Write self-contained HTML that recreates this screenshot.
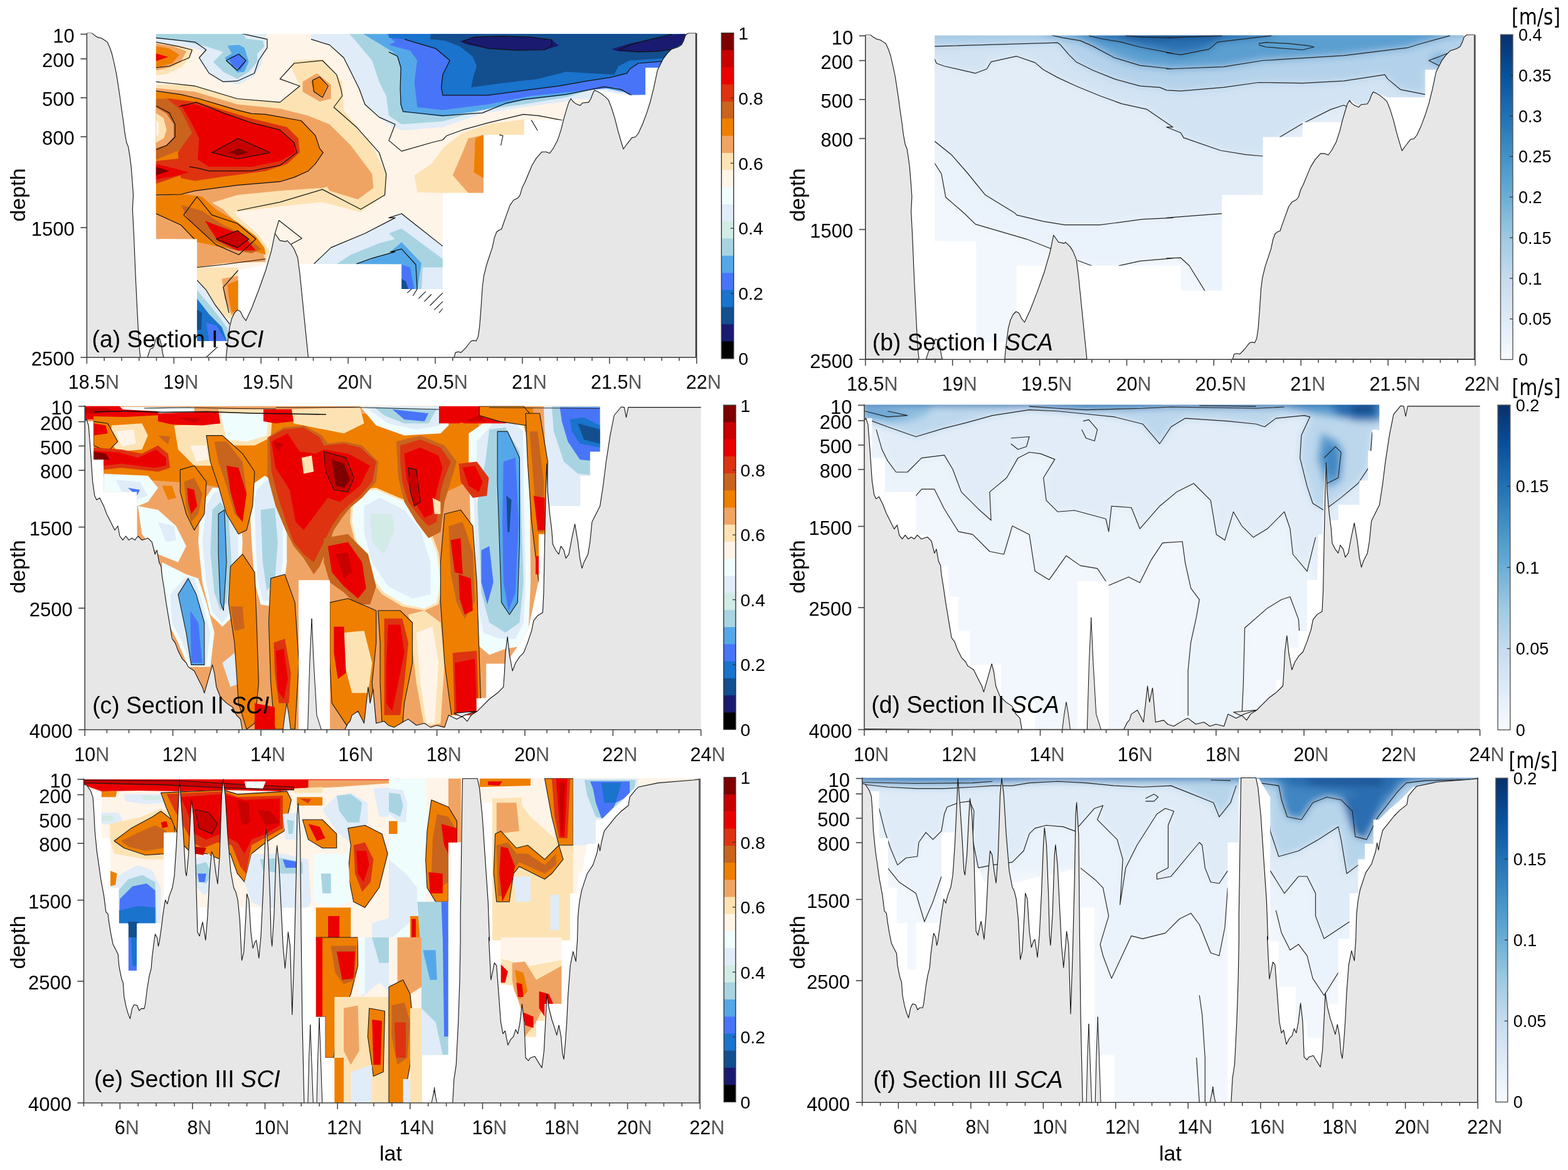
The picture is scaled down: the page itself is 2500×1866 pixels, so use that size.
<!DOCTYPE html><html><head><meta charset="utf-8"><style>html,body{margin:0;padding:0;background:#fff;}svg{display:block}</style></head><body>
<svg width="2500" height="1866" viewBox="0 0 2500 1866" font-family='"Liberation Sans", Arial, sans-serif'>
<rect width="2500" height="1866" fill="#fff"/>
<g id="pa">
<clipPath id="clipa"><rect x="138.4" y="52.5" width="972.3" height="517.5"/></clipPath>
<g clip-path="url(#clipa)">
<clipPath id="da"><path d="M248.6,54.2 L1093.3,54.2 L1090.0,64.9 L1086.6,71.6 L1080.9,75.0 L1070.7,78.4 L1064.0,85.2 L1057.2,94.2 L1050.4,107.8 L1028.9,107.8 L1028.9,151.8 L1001.8,151.8 L969.1,146.2 L948.7,142.8 L938.6,162.0 L925.0,167.7 L911.5,157.5 L897.9,191.8 L835.8,191.8 L835.8,215.1 L770.9,215.1 L770.9,307.7 L705.9,307.7 L705.9,460.9 L640.3,460.9 L640.3,421.3 L426.0,420.9 L423.7,422.0 L379.7,431.0 L379.7,494.3 L369.5,507.9 L365.0,544.0 L314.1,544.0 L314.1,381.3 L248.6,381.3 Z"/></clipPath>
<g clip-path="url(#da)">
<path d="M248.6,54.2 L1093.3,54.2 L1090.0,64.9 L1086.6,71.6 L1080.9,75.0 L1070.7,78.4 L1064.0,85.2 L1057.2,94.2 L1050.4,107.8 L1028.9,107.8 L1028.9,151.8 L1001.8,151.8 L969.1,146.2 L948.7,142.8 L938.6,162.0 L925.0,167.7 L911.5,157.5 L897.9,191.8 L835.8,191.8 L835.8,215.1 L770.9,215.1 L770.9,307.7 L705.9,307.7 L705.9,460.9 L640.3,460.9 L640.3,421.3 L426.0,420.9 L423.7,422.0 L379.7,431.0 L379.7,494.3 L369.5,507.9 L365.0,544.0 L314.1,544.0 L314.1,381.3 L248.6,381.3 Z" fill="#fff4e8"/>
<path d="M248.6,66.0 L288.2,71.6 L308.5,78.4 L301.7,94.2 L288.2,107.8 L265.6,117.9 L248.6,120.2 Z" fill="#fde3b4"/>
<path d="M248.6,134.9 L310.8,136.0 L378.5,157.5 L446.3,163.1 L477.9,137.2 L464.4,107.8 L468.9,96.5 L514.1,94.2 L545.7,130.4 L548.0,175.6 L593.2,232.0 L615.8,277.2 L613.5,311.1 L575.1,338.2 L514.1,322.4 L446.3,329.2 L355.9,340.5 L333.3,363.3 L315.3,394.9 L314.1,435.6 L248.6,340.5 Z" fill="#fde3b4"/>
<path d="M314.1,426.5 L355.9,422.0 L423.7,413.0 L430.5,401.7 L412.4,374.6 L378.5,345.2 L367.2,327.1 L344.6,300.0 L288.2,300.0 L248.6,311.3 L248.6,367.8 L314.1,394.9 Z" fill="#fde3b4"/>
<path d="M705.9,307.7 L665.2,306.6 L660.7,279.5 L687.8,261.4 L708.1,234.3 L737.5,211.7 L778.2,198.2 L835.8,190.2 L835.8,215.1 L770.9,215.1 L770.9,307.7 Z" fill="#fde3b4"/>
<path d="M314.1,426.5 L379.7,426.5 L379.7,494.3 L369.5,507.9 L355.9,503.3 L333.3,471.7 L314.1,449.1 Z" fill="#fde3b4"/>
<path d="M248.6,69.4 L276.9,73.9 L297.2,81.8 L288.2,98.7 L270.1,107.8 L248.6,112.3 Z" fill="#f0a464"/>
<path d="M248.6,140.5 L310.8,146.2 L378.5,166.5 L446.3,173.3 L491.5,184.6 L514.1,202.7 L536.7,243.3 L545.7,265.9 L541.2,293.1 L514.1,299.8 L446.3,304.3 L378.5,311.1 L333.3,324.7 L288.2,333.7 L248.6,340.5 Z" fill="#f0a464"/>
<path d="M248.6,309.0 L310.8,306.8 L355.9,333.9 L389.8,367.8 L419.2,401.7 L423.7,417.5 L355.9,419.7 L314.1,426.5 L314.1,381.3 L248.6,381.3 Z" fill="#f0a464"/>
<path d="M482.5,130.4 L505.1,116.8 L527.7,134.9 L527.7,157.5 L509.6,162.0 L482.5,146.2 Z" fill="#f0a464"/>
<path d="M491.5,184.6 L525.4,198.2 L559.3,232.0 L593.2,277.2 L595.4,299.8 L570.6,317.9 L525.4,304.3 L502.8,265.9 L514.1,243.3 Z" fill="#f0a464"/>
<path d="M770.9,215.1 L770.9,307.7 L746.5,307.7 L721.7,279.5 L737.5,243.3 L746.5,220.8 Z" fill="#f0a464"/>
<path d="M353.7,444.6 L379.7,440.1 L379.7,494.3 L369.5,503.3 L358.2,476.2 Z" fill="#f0a464"/>
<path d="M248.6,73.9 L270.1,77.3 L285.9,87.4 L274.6,101.0 L248.6,107.8 Z" fill="#ee7f00"/>
<path d="M248.6,146.2 L288.2,150.7 L317.5,157.5 L355.9,168.8 L401.1,181.2 L423.7,182.3 L480.2,192.5 L502.8,216.2 L509.6,236.6 L515.2,243.3 L502.8,261.4 L491.5,272.7 L468.9,282.9 L446.3,289.7 L378.5,295.3 L310.8,304.3 L288.2,310.0 L248.6,311.1 Z" fill="#ee7f00"/>
<path d="M248.6,313.6 L288.2,309.0 L322.0,313.6 L344.6,333.9 L378.5,354.2 L407.9,376.8 L421.5,394.9 L423.7,406.2 L401.1,399.4 L355.9,394.9 L314.1,385.9 L288.2,358.7 L248.6,340.7 Z" fill="#ee7f00"/>
<path d="M770.9,215.1 L770.9,284.0 L755.6,275.0 L757.8,220.8 Z" fill="#ee7f00"/>
<path d="M362.7,453.6 L379.7,446.9 L379.7,494.3 L369.5,498.8 L365.0,476.2 Z" fill="#ee7f00"/>
<path d="M496.0,130.4 L509.6,123.6 L520.9,137.2 L514.1,153.0 L500.5,146.2 Z" fill="#ee7f00"/>
<path d="M248.6,157.5 L265.6,157.5 L288.2,171.0 L306.2,198.2 L308.5,216.2 L288.2,238.8 L248.6,254.6 Z" fill="#c8641e"/>
<path d="M248.6,171.0 L265.6,181.2 L276.9,198.2 L276.9,218.5 L265.6,230.9 L248.6,236.6 Z" fill="#f0a464"/>
<path d="M248.6,180.1 L261.0,189.1 L265.6,207.2 L261.0,220.8 L248.6,227.5 Z" fill="#fde3b4"/>
<path d="M248.6,191.4 L253.1,195.9 L253.1,214.0 L248.6,218.5 Z" fill="#fff4e8"/>
<path d="M265.6,156.4 L315.3,163.1 L355.9,175.6 L401.1,189.1 L457.6,202.7 L475.7,220.8 L477.9,243.3 L457.6,261.4 L423.7,272.7 L355.9,281.8 L310.8,288.5 L288.2,284.0 L283.6,243.3 L306.2,211.7 L288.2,175.6 Z" fill="#dd3311"/>
<path d="M248.6,256.9 L288.2,252.4 L310.8,261.4 L288.2,279.5 L248.6,293.1 Z" fill="#dd3311"/>
<path d="M288.2,327.1 L322.0,336.2 L355.9,358.7 L389.8,374.6 L416.9,397.2 L401.1,403.9 L367.2,397.2 L333.3,381.3 L301.7,352.0 Z" fill="#c8641e"/>
<path d="M288.2,166.5 L310.8,166.5 L355.9,180.1 L401.1,195.9 L446.3,207.2 L468.9,227.5 L471.2,243.3 L446.3,256.9 L401.1,265.9 L333.3,265.9 L315.3,254.6 L317.5,220.8 L304.0,193.6 Z" fill="#eb0000"/>
<path d="M248.6,261.4 L276.9,268.2 L301.7,275.0 L274.6,281.8 L248.6,286.3 Z" fill="#eb0000"/>
<path d="M248.6,85.2 L267.8,90.8 L248.6,97.6 Z" fill="#eb0000"/>
<path d="M326.6,352.0 L355.9,363.3 L387.6,374.6 L407.9,399.4 L378.5,399.4 L346.9,383.6 Z" fill="#eb0000"/>
<path d="M337.9,243.3 L379.7,220.8 L430.5,243.3 L378.5,253.5 Z" fill="#c80000"/>
<path d="M365.0,243.3 L379.7,236.6 L396.6,243.3 L379.7,247.9 Z" fill="#7f0000"/>
<path d="M248.6,265.9 L270.1,272.7 L248.6,279.5 Z" fill="#7f0000"/>
<path d="M344.6,381.3 L378.5,367.8 L396.6,381.3 L378.5,394.9 Z" fill="#c80000"/>
<path d="M248.6,51.3 L426.0,51.3 L423.7,67.1 L421.5,80.7 L416.9,103.3 L405.6,121.3 L380.8,134.9 L355.9,130.4 L333.3,116.8 L319.8,101.0 L317.5,92.0 L326.6,82.9 L310.8,77.3 L288.2,72.8 L248.6,68.2 Z" fill="#e0ecf8"/>
<path d="M248.6,51.3 L385.3,51.3 L392.1,61.5 L419.2,64.9 L421.5,73.9 L410.2,85.2 L410.2,98.7 L396.6,114.6 L378.5,125.9 L355.9,114.6 L340.1,98.7 L355.9,82.9 L328.8,73.9 L288.2,64.9 L248.6,61.5 Z" fill="#a8d4e2"/>
<path d="M362.7,72.8 L380.8,71.6 L389.8,76.2 L396.6,98.7 L389.8,114.6 L378.5,115.7 L362.7,98.7 L358.2,92.0 L369.5,85.2 Z" fill="#55a8e8"/>
<path d="M365.0,92.0 L380.8,85.2 L392.1,98.7 L383.1,112.3 L369.5,103.3 Z" fill="#4875f8"/>
<path d="M496.0,51.3 L630.0,51.3 L1117.1,51.3 L1117.1,166.5 L913.7,157.5 L902.4,162.0 L832.4,171.0 L769.1,181.2 L705.9,202.7 L640.3,208.3 L620.0,198.2 L604.5,186.9 L581.9,166.5 L572.8,141.7 L559.3,114.6 L548.0,92.0 L525.4,71.6 L496.0,62.6 Z" fill="#e0ecf8"/>
<path d="M554.8,51.3 L630.0,51.3 L1117.1,51.3 L1117.1,153.0 L1004.1,137.2 L990.5,139.4 L947.6,141.7 L902.4,155.2 L834.6,166.5 L769.1,175.6 L705.9,193.6 L640.3,198.2 L620.0,184.6 L615.8,153.0 L604.5,130.4 L593.2,96.5 L570.6,69.4 Z" fill="#a8d4e2"/>
<path d="M572.8,51.3 L630.0,51.3 L1117.1,51.3 L1117.1,148.5 L990.5,146.2 L958.9,139.4 L902.4,151.8 L834.6,159.7 L769.1,175.6 L705.9,185.7 L642.6,179.0 L638.1,166.5 L638.1,107.8 L633.6,89.7 L620.0,82.9 L630.0,85.2 L604.5,69.4 L581.9,55.8 Z" fill="#55a8e8"/>
<path d="M604.5,51.3 L630.0,51.3 L1117.1,51.3 L1117.1,148.5 L1004.1,151.8 L981.5,139.4 L913.7,146.2 L845.9,153.0 L778.2,166.5 L705.9,175.6 L665.2,171.0 L660.7,130.4 L665.2,96.5 L653.9,80.7 L620.0,71.6 L630.0,67.1 L615.8,53.6 Z" fill="#4875f8"/>
<path d="M620.0,51.3 L1117.1,51.3 L1117.1,96.5 L1058.3,97.6 L1017.7,101.0 L1004.1,110.0 L999.6,116.8 L972.5,123.6 L936.3,129.2 L891.1,137.2 L845.9,142.8 L778.2,151.8 L705.9,151.8 L703.6,139.4 L705.9,119.1 L717.2,96.5 L694.6,77.3 L644.9,62.6 L620.0,60.3 Z" fill="#1a73cc"/>
<path d="M687.8,51.3 L1117.1,51.3 L1085.4,71.6 L1071.9,79.5 L1058.3,93.1 L1004.1,96.5 L986.0,105.5 L979.2,119.1 L902.4,114.6 L857.2,125.9 L800.8,132.6 L751.0,139.4 L755.6,119.1 L760.1,105.5 L753.3,89.7 L733.0,73.9 L710.4,64.9 L685.5,62.6 Z" fill="#134e8e"/>
<path d="M733.0,66.0 L755.6,59.2 L800.8,57.6 L845.9,59.2 L879.8,63.7 L891.1,72.8 L868.5,79.5 L823.3,80.2 L778.2,77.3 L746.5,71.6 Z" fill="#1a1a70"/>
<path d="M974.7,78.4 L1004.1,69.4 L1038.0,62.6 L1071.9,55.8 L1093.3,53.6 L1088.8,64.9 L1085.4,71.6 L1071.9,77.3 L1049.3,81.8 L1015.4,82.9 L986.0,81.8 Z" fill="#1a1a70"/>
<path d="M500.5,420.9 L527.7,394.9 L581.9,372.3 L630.0,347.4 L620.0,347.4 L640.3,340.7 L662.9,358.7 L705.9,392.6 L705.9,462.7 L620.0,462.7 Z" fill="#e0ecf8"/>
<path d="M536.7,420.9 L559.3,406.2 L604.5,388.1 L630.0,381.3 L620.0,372.3 L640.3,364.4 L705.9,413.0 L705.9,426.5 L674.2,426.5 L672.0,462.7 L620.0,462.7 Z" fill="#a8d4e2"/>
<path d="M568.3,420.9 L593.2,411.8 L630.0,401.7 L622.3,401.7 L640.3,385.9 L672.0,419.7 L665.2,462.7 L620.0,462.7 Z" fill="#55a8e8"/>
<path d="M640.3,422.0 L653.9,426.5 L660.7,462.7 L640.3,462.7 Z" fill="#4875f8"/>
<path d="M640.3,444.6 L647.1,449.1 L651.6,462.7 L640.3,462.7 Z" fill="#134e8e"/>
<path d="M314.1,446.9 L328.8,462.7 L342.4,485.3 L355.9,503.3 L366.1,516.9 L366.1,546.3 L314.1,546.3 Z" fill="#e0ecf8"/>
<path d="M314.1,462.7 L333.3,485.3 L351.4,507.9 L362.7,523.7 L365.0,546.3 L314.1,546.3 Z" fill="#a8d4e2"/>
<path d="M314.1,476.2 L333.3,501.1 L353.7,521.4 L362.7,546.3 L314.1,546.3 Z" fill="#1a73cc"/>
<path d="M328.8,514.6 L344.6,519.2 L360.5,544.0 L333.3,544.0 Z" fill="#4875f8"/>
<path d="M314.1,494.3 L322.0,498.8 L320.9,525.9 L314.1,525.9 Z" fill="#134e8e"/>
<path d="M248.6,145.1 L288.2,150.7 L317.5,157.5 L355.9,168.8 L378.5,175.6 L401.1,181.2 L423.7,182.3 L480.2,192.5 L502.8,216.2 L509.6,236.6 L515.2,243.3 L502.8,261.4 L491.5,272.7 L468.9,282.9 L446.3,289.7 L378.5,295.3 L310.8,304.3 L288.2,310.0 L248.6,311.1" fill="none" stroke="#111" stroke-width="1.2" stroke-linejoin="round"/>
<path d="M285.9,169.9 L313.0,163.1 L355.9,180.1 L401.1,195.9 L446.3,207.2 L468.9,227.5 L473.4,243.3 L446.3,263.7 L401.1,272.7 L333.3,272.7 L315.3,268.2 L301.7,265.9" fill="none" stroke="#111" stroke-width="1.2" stroke-linejoin="round"/>
<path d="M337.9,243.3 L379.7,220.8 L430.5,243.3 L378.5,253.5 L337.9,243.3" fill="none" stroke="#111" stroke-width="1.2" stroke-linejoin="round"/>
<path d="M248.6,168.8 L270.1,180.1 L279.1,198.2 L279.1,218.5 L265.6,232.0 L248.6,238.8" fill="none" stroke="#111" stroke-width="1.2" stroke-linejoin="round"/>
<path d="M248.6,130.4 L310.8,137.2 L378.5,157.5 L446.3,163.1 L477.9,137.2 L446.3,125.9 L468.9,101.0 L514.1,96.5 L536.7,119.1 L543.5,141.7 L545.7,153.0 L532.2,171.0 L568.3,202.7 L604.5,243.3 L615.8,277.2 L613.5,311.1 L575.1,333.7 L514.1,302.1 L446.3,322.4 L378.5,336.0" fill="none" stroke="#111" stroke-width="1.2" stroke-linejoin="round"/>
<path d="M498.3,128.1 L509.6,122.5 L523.1,137.2 L514.1,155.2 L500.5,146.2 L498.3,128.1" fill="none" stroke="#111" stroke-width="1.2" stroke-linejoin="round"/>
<path d="M248.6,107.8 L270.1,105.5 L301.7,92.0 L306.2,79.5 L283.6,73.9 L248.6,67.1" fill="none" stroke="#111" stroke-width="1.2" stroke-linejoin="round"/>
<path d="M248.6,60.3 L310.8,67.1 L328.8,79.5 L317.5,92.0 L333.3,116.8 L355.9,130.4 L378.5,129.2 L405.6,116.8 L412.4,96.5 L426.0,76.2 L426.0,62.6 L385.3,53.6" fill="none" stroke="#111" stroke-width="1.2" stroke-linejoin="round"/>
<path d="M360.5,96.5 L380.8,86.3 L392.1,96.5 L378.5,112.3 L360.5,96.5" fill="none" stroke="#111" stroke-width="1.2" stroke-linejoin="round"/>
<path d="M496.0,62.6 L525.4,71.6 L548.0,92.0 L559.3,114.6 L572.8,141.7 L581.9,166.5 L604.5,186.9 L630.0,198.2 L620.0,224.1 L640.3,241.1 L687.8,227.5 L705.9,223.0 L712.6,216.2 L737.5,207.2 L778.2,195.9 L834.6,182.3 L859.5,184.6 L896.8,191.8" fill="none" stroke="#111" stroke-width="1.2" stroke-linejoin="round"/>
<path d="M620.0,82.9 L633.6,89.7 L639.2,107.8 L638.1,141.7 L639.2,166.5 L642.6,177.8 L653.9,179.0 L705.9,184.6 L769.1,180.1 L807.5,164.3 L834.6,158.6 L902.4,150.7 L963.4,138.3 L990.5,142.8 L1008.6,153.0" fill="none" stroke="#111" stroke-width="1.2" stroke-linejoin="round"/>
<path d="M644.9,62.6 L694.6,77.3 L717.2,96.5 L705.9,119.1 L703.6,139.4 L705.9,151.8 L778.2,151.8 L845.9,142.8 L891.1,137.2 L936.3,129.2 L972.5,123.6 L999.6,116.8 L1004.1,110.0 L1017.7,101.0 L1058.3,97.6" fill="none" stroke="#111" stroke-width="1.2" stroke-linejoin="round"/>
<path d="M737.5,66.0 L755.6,59.2 L800.8,57.6 L845.9,59.2 L879.8,63.7 L879.8,72.8 L868.5,79.5 L823.3,80.2 L778.2,77.3 L737.5,66.0" fill="none" stroke="#111" stroke-width="1.2" stroke-linejoin="round"/>
<path d="M986.0,79.5 L1004.1,71.6 L1038.0,62.6 L1071.9,54.7" fill="none" stroke="#111" stroke-width="1.2" stroke-linejoin="round"/>
<path d="M986.0,79.5 L1015.4,82.9 L1049.3,81.8 L1071.9,78.4" fill="none" stroke="#111" stroke-width="1.2" stroke-linejoin="round"/>
<path d="M314.1,426.5 L355.9,422.0 L423.7,413.0" fill="none" stroke="#111" stroke-width="1.2" stroke-linejoin="round"/>
<path d="M292.7,342.9 L314.1,313.6 L337.9,342.9 L378.5,356.5 L407.9,381.3 L380.8,406.2 L344.6,390.4 L292.7,342.9" fill="none" stroke="#111" stroke-width="1.2" stroke-linejoin="round"/>
<path d="M344.6,381.3 L378.5,367.8 L396.6,381.3 L378.5,394.9 L344.6,381.3" fill="none" stroke="#111" stroke-width="1.2" stroke-linejoin="round"/>
<path d="M500.5,420.9 L527.7,394.9 L581.9,372.3 L630.0,347.4 L620.0,347.4 L640.3,340.7 L662.9,358.7 L705.9,392.6" fill="none" stroke="#111" stroke-width="1.2" stroke-linejoin="round"/>
<path d="M568.3,420.9 L593.2,411.8 L630.0,401.7 L622.3,401.7 L640.3,397.2 L662.9,422.0 L665.2,460.9" fill="none" stroke="#111" stroke-width="1.2" stroke-linejoin="round"/>
<path d="M314.1,446.9 L328.8,462.7 L342.4,485.3 L355.9,503.3 L366.1,516.9" fill="none" stroke="#111" stroke-width="1.2" stroke-linejoin="round"/>
<path d="M379.7,431.0 L355.9,458.2 L365.0,498.8" fill="none" stroke="#111" stroke-width="1.2" stroke-linejoin="round"/>
<path d="M248.6,340.7 L288.2,358.7 L314.1,385.9" fill="none" stroke="#111" stroke-width="1.2" stroke-linejoin="round"/>
</g>
<path d="M137.0,52.4 L145.8,52.4 L151.5,56.9 L156.7,59.9 L161.6,60.8 L166.2,63.7 L171.1,67.1 L175.2,76.2 L178.6,86.3 L182.0,101.0 L185.4,116.8 L188.3,134.9 L191.0,153.0 L193.7,173.3 L196.7,193.6 L198.9,211.7 L201.8,227.5 L204.6,234.3 L206.8,247.9 L209.1,265.9 L210.9,288.5 L212.5,311.1 L211.3,333.9 L213.6,379.1 L215.9,435.6 L218.1,480.8 L220.4,525.9 L222.6,559.8 L223.8,570.2 L138.4,570.2 Z" fill="#e7e7e7" stroke="#111" stroke-width="1.1" stroke-linejoin="round"/>
<path d="M235.0,570.2 L239.5,556.7 L243.6,554.9 L245.4,552.2 L247.7,543.1 L249.9,538.1 L254.5,540.0 L257.2,550.0 L259.0,561.3 L260.8,570.2 Z" fill="#e7e7e7" stroke="#111" stroke-width="1.1" stroke-linejoin="round"/>
<path d="M360.5,570.2 L362.7,548.5 L366.1,521.4 L369.5,507.9 L374.0,498.8 L378.5,494.3 L383.1,496.6 L387.6,505.6 L392.1,511.3 L401.1,492.0 L412.4,462.7 L423.7,431.0 L432.8,399.4 L438.4,372.3 L446.3,383.6 L455.4,385.4 L457.6,383.6 L464.4,390.4 L468.9,397.2 L474.6,410.7 L477.9,435.6 L482.5,480.8 L487.0,525.9 L491.5,570.2 Z" fill="#e7e7e7" stroke="#111" stroke-width="1.1" stroke-linejoin="round"/>
<path d="M438.4,372.3 L444.7,351.5 L481.3,380.2 L464.4,389.2" fill="none" stroke="#111" stroke-width="1.1" stroke-linejoin="round"/>
<path d="M723.9,570.2 L726.2,562.1 L730.7,561.0 L735.2,562.1 L742.0,555.3 L751.0,544.0 L755.6,542.9 L759.0,544.0 L762.3,537.2 L764.6,521.4 L766.9,492.0 L769.1,458.2 L771.4,440.1 L775.9,422.0 L780.4,408.5 L784.9,394.9 L788.3,379.1 L791.7,370.0 L796.2,366.7 L799.6,365.5 L801.9,358.7 L807.5,342.9 L813.2,327.1 L818.8,319.2 L825.6,315.8 L829.0,311.3 L832.4,299.8 L836.9,290.8 L842.5,277.2 L848.2,263.7 L855.0,252.4 L864.0,242.2 L870.8,242.2 L876.4,244.5 L882.1,236.6 L888.9,224.1 L894.5,207.2 L899.0,189.1 L903.6,173.3 L906.9,163.1 L910.3,157.5 L913.7,162.0 L918.2,165.4 L925.0,168.3 L928.4,164.3 L938.6,163.1 L942.0,157.5 L945.4,148.5 L948.1,143.9 L953.3,146.2 L958.9,149.6 L965.7,155.2 L970.2,159.7 L974.7,171.0 L980.4,189.1 L984.9,207.2 L989.4,223.0 L993.9,237.7 L999.6,229.8 L1007.5,219.6 L1013.1,218.5 L1017.7,212.8 L1024.4,198.2 L1031.2,180.1 L1036.9,162.0 L1042.5,139.4 L1048.2,112.3 L1050.4,107.8 L1057.2,94.2 L1064.0,85.2 L1070.7,78.4 L1080.9,75.0 L1086.6,71.6 L1090.0,64.9 L1092.7,56.9 L1096.7,52.9 L1109.4,52.4 L1109.4,570.2 Z" fill="#e7e7e7" stroke="#111" stroke-width="1.1" stroke-linejoin="round"/>
<path d="M649.4,467.2 L656.2,460.9" fill="none" stroke="#111" stroke-width="1.1" stroke-linejoin="round"/>
<path d="M658.4,471.7 L665.2,460.9" fill="none" stroke="#111" stroke-width="1.1" stroke-linejoin="round"/>
<path d="M667.4,476.2 L678.7,464.9" fill="none" stroke="#111" stroke-width="1.1" stroke-linejoin="round"/>
<path d="M676.5,480.8 L687.8,469.5" fill="none" stroke="#111" stroke-width="1.1" stroke-linejoin="round"/>
<path d="M685.5,487.5 L705.9,467.2" fill="none" stroke="#111" stroke-width="1.1" stroke-linejoin="round"/>
<path d="M692.3,494.3 L705.9,480.8" fill="none" stroke="#111" stroke-width="1.1" stroke-linejoin="round"/>
<path d="M700.2,498.8 L705.9,492.0" fill="none" stroke="#111" stroke-width="1.1" stroke-linejoin="round"/>
<path d="M847.1,191.4 L857.2,208.3" fill="none" stroke="#111" stroke-width="1.1" stroke-linejoin="round"/>
<path d="M796.2,215.1 L801.9,216.2 L798.5,232.0" fill="none" stroke="#111" stroke-width="1.1" stroke-linejoin="round"/>
<path d="M328.8,570.0 L346.9,553.1" fill="none" stroke="#111" stroke-width="1.1" stroke-linejoin="round"/>
</g>
<path d="M138.4,53.0V570.0H1110.7" fill="none" stroke="#404040" stroke-width="1.6"/>
<path d="M1110.7,53.0V570.0" fill="none" stroke="#404040" stroke-width="1.4"/>
<path d="M128.4,54.5H138.4" stroke="#404040" stroke-width="1.6"/>
<text x="118.8" y="67.8" text-anchor="end" font-size="31" fill="#000">10</text>
<path d="M128.4,93.8H138.4" stroke="#404040" stroke-width="1.6"/>
<text x="118.8" y="107.1" text-anchor="end" font-size="31" fill="#000">200</text>
<path d="M128.4,155.9H138.4" stroke="#404040" stroke-width="1.6"/>
<text x="118.8" y="169.2" text-anchor="end" font-size="31" fill="#000">500</text>
<path d="M128.4,218.1H138.4" stroke="#404040" stroke-width="1.6"/>
<text x="118.8" y="231.4" text-anchor="end" font-size="31" fill="#000">800</text>
<path d="M128.4,363.0H138.4" stroke="#404040" stroke-width="1.6"/>
<text x="118.8" y="376.3" text-anchor="end" font-size="31" fill="#000">1500</text>
<path d="M128.4,570.0H138.4" stroke="#404040" stroke-width="1.6"/>
<text x="118.8" y="583.3" text-anchor="end" font-size="31" fill="#000">2500</text>
<path d="M138.4,570.0V580.0" stroke="#404040" stroke-width="1.5"/>
<path d="M166.2,570.0V575.5" stroke="#404040" stroke-width="1.5"/>
<path d="M194.0,570.0V575.5" stroke="#404040" stroke-width="1.5"/>
<path d="M221.7,570.0V575.5" stroke="#404040" stroke-width="1.5"/>
<path d="M249.5,570.0V575.5" stroke="#404040" stroke-width="1.5"/>
<path d="M277.3,570.0V580.0" stroke="#404040" stroke-width="1.5"/>
<path d="M305.1,570.0V575.5" stroke="#404040" stroke-width="1.5"/>
<path d="M332.9,570.0V575.5" stroke="#404040" stroke-width="1.5"/>
<path d="M360.6,570.0V575.5" stroke="#404040" stroke-width="1.5"/>
<path d="M388.4,570.0V575.5" stroke="#404040" stroke-width="1.5"/>
<path d="M416.2,570.0V580.0" stroke="#404040" stroke-width="1.5"/>
<path d="M444.0,570.0V575.5" stroke="#404040" stroke-width="1.5"/>
<path d="M471.8,570.0V575.5" stroke="#404040" stroke-width="1.5"/>
<path d="M499.5,570.0V575.5" stroke="#404040" stroke-width="1.5"/>
<path d="M527.3,570.0V575.5" stroke="#404040" stroke-width="1.5"/>
<path d="M555.1,570.0V580.0" stroke="#404040" stroke-width="1.5"/>
<path d="M582.9,570.0V575.5" stroke="#404040" stroke-width="1.5"/>
<path d="M610.7,570.0V575.5" stroke="#404040" stroke-width="1.5"/>
<path d="M638.4,570.0V575.5" stroke="#404040" stroke-width="1.5"/>
<path d="M666.2,570.0V575.5" stroke="#404040" stroke-width="1.5"/>
<path d="M694.0,570.0V580.0" stroke="#404040" stroke-width="1.5"/>
<path d="M721.8,570.0V575.5" stroke="#404040" stroke-width="1.5"/>
<path d="M749.6,570.0V575.5" stroke="#404040" stroke-width="1.5"/>
<path d="M777.3,570.0V575.5" stroke="#404040" stroke-width="1.5"/>
<path d="M805.1,570.0V575.5" stroke="#404040" stroke-width="1.5"/>
<path d="M832.9,570.0V580.0" stroke="#404040" stroke-width="1.5"/>
<path d="M860.7,570.0V575.5" stroke="#404040" stroke-width="1.5"/>
<path d="M888.5,570.0V575.5" stroke="#404040" stroke-width="1.5"/>
<path d="M916.2,570.0V575.5" stroke="#404040" stroke-width="1.5"/>
<path d="M944.0,570.0V575.5" stroke="#404040" stroke-width="1.5"/>
<path d="M971.8,570.0V580.0" stroke="#404040" stroke-width="1.5"/>
<path d="M999.6,570.0V575.5" stroke="#404040" stroke-width="1.5"/>
<path d="M1027.4,570.0V575.5" stroke="#404040" stroke-width="1.5"/>
<path d="M1055.1,570.0V575.5" stroke="#404040" stroke-width="1.5"/>
<path d="M1082.9,570.0V575.5" stroke="#404040" stroke-width="1.5"/>
<path d="M1110.7,570.0V580.0" stroke="#404040" stroke-width="1.5"/>
<text x="108.7" y="620.0" font-size="30.5" fill="#000">18.5<tspan fill="#555">N</tspan></text>
<text x="260.3" y="620.0" font-size="30.5" fill="#000">19<tspan fill="#555">N</tspan></text>
<text x="386.5" y="620.0" font-size="30.5" fill="#000">19.5<tspan fill="#555">N</tspan></text>
<text x="538.1" y="620.0" font-size="30.5" fill="#000">20<tspan fill="#555">N</tspan></text>
<text x="664.3" y="620.0" font-size="30.5" fill="#000">20.5<tspan fill="#555">N</tspan></text>
<text x="815.9" y="620.0" font-size="30.5" fill="#000">21<tspan fill="#555">N</tspan></text>
<text x="942.1" y="620.0" font-size="30.5" fill="#000">21.5<tspan fill="#555">N</tspan></text>
<text x="1093.7" y="620.0" font-size="30.5" fill="#000">22<tspan fill="#555">N</tspan></text>
</g>
<g id="pb">
<clipPath id="clipb"><rect x="1379.8" y="55.2" width="972.2" height="518.0"/></clipPath>
<g clip-path="url(#clipb)">
<clipPath id="db"><path d="M1490.2,56.5 L2334.5,56.3 L2331.1,71.6 L2318.7,79.5 L2309.6,84.1 L2296.1,103.3 L2291.5,111.2 L2272.3,111.2 L2272.3,155.2 L2212.5,155.2 L2189.9,146.2 L2180.8,166.5 L2167.3,169.9 L2153.7,159.7 L2142.4,194.8 L2076.9,194.8 L2076.9,218.5 L2013.6,218.5 L2013.6,311.1 L1948.1,311.1 L1948.1,463.8 L1882.6,463.8 L1882.6,423.8 L1620.8,423.8 L1620.8,496.6 L1609.5,507.9 L1605.0,546.3 L1556.4,546.3 L1556.4,384.7 L1490.2,384.7 Z"/></clipPath>
<filter id="blb" x="-5%" y="-5%" width="110%" height="110%"><feGaussianBlur stdDeviation="7"/></filter>
<g clip-path="url(#db)"><g filter="url(#blb)">
<path d="M1437.8,40.0 L2379.7,40.0 L2379.7,616.3 L1860.0,616.3 L1437.8,616.3 Z" fill="#f2f7fd"/>
<path d="M1460.4,40.0 L2345.8,40.0 L2018.2,300.0 L2018.2,463.8 L1921.0,463.8 L1896.2,423.8 L1882.6,411.2 L1860.0,411.8 L1870.0,411.8 L1817.4,416.4 L1783.5,423.8 L1740.5,423.8 L1717.9,415.2 L1677.3,397.2 L1636.6,381.3 L1555.3,357.6 L1507.8,314.7 L1537.2,340.0 L1507.8,314.5 L1501.0,277.2 L1490.2,260.3 L1460.4,260.3 Z" fill="#eaf2fb"/>
<path d="M1460.4,40.0 L2345.8,40.0 L2345.8,340.0 L2008.0,314.0 L1948.1,340.7 L1860.0,347.4 L1870.0,347.4 L1821.9,349.7 L1754.1,358.7 L1697.6,358.7 L1663.7,353.1 L1620.8,342.9 L1618.5,340.0 L1571.1,311.1 L1541.7,275.0 L1516.9,246.7 L1490.2,225.3 L1460.4,220.8 Z" fill="#e3edf8"/>
<path d="M1460.4,40.0 L2345.8,40.0 L2345.8,166.5 L2149.2,171.0 L2142.4,167.7 L2122.1,174.4 L2074.6,198.2 L2040.8,218.5 L2020.4,243.3 L2013.6,249.0 L1986.5,246.7 L1945.9,240.0 L1887.1,219.6 L1882.6,211.7 L1860.0,202.7 L1870.0,202.7 L1853.5,191.4 L1828.7,174.4 L1788.0,165.4 L1754.1,153.0 L1715.7,137.2 L1686.3,123.6 L1663.7,111.2 L1650.2,99.9 L1620.8,89.7 L1580.1,98.7 L1573.3,110.0 L1555.3,116.8 L1505.6,105.5 L1493.1,101.0 L1490.2,94.2 L1460.4,94.2 Z" fill="#d2e3f3"/>
<path d="M1460.4,40.0 L2345.8,40.0 L2345.8,111.2 L2272.3,111.2 L2272.3,150.7 L2232.8,142.8 L2212.5,125.9 L2207.9,119.1 L2142.4,129.2 L2076.9,132.6 L2006.9,131.5 L1950.4,139.4 L1882.6,145.1 L1860.0,143.9 L1849.0,139.4 L1817.4,137.2 L1776.7,125.9 L1742.8,112.3 L1715.7,98.7 L1704.4,87.4 L1690.8,71.6 L1686.3,68.2 L1490.2,73.9 L1460.4,73.9 Z" fill="#b3d1ea"/>
<path d="M1460.4,40.0 L1686.3,40.0 L1686.3,61.5 L1490.2,62.6 L1460.4,62.6 Z" fill="#a6c9e5"/>
<path d="M1663.7,40.0 L2345.8,40.0 L2345.8,53.6 L2311.9,56.9 L2262.2,70.5 L2244.1,76.2 L2142.4,88.6 L2052.0,94.2 L2013.6,96.5 L1950.4,106.7 L1860.0,110.0 L1870.0,110.0 L1817.4,104.4 L1776.7,92.0 L1742.8,73.9 L1722.5,64.9 L1695.4,60.3 L1677.3,56.3 L1663.7,56.3 Z" fill="#5a9fd0"/>
<path d="M2278.0,96.5 L2296.1,85.2 L2309.6,94.2 L2296.1,105.5 Z" fill="#5a9fd0"/>
<path d="M1722.5,40.0 L2040.8,40.0 L2027.2,56.9 L1941.3,67.1 L1927.8,78.4 L1882.6,87.4 L1860.0,84.1 L1870.0,85.2 L1817.4,75.0 L1788.0,67.1 L1754.1,61.5 L1736.0,56.9 L1722.5,55.8 Z" fill="#2a71b3"/>
<path d="M1788.0,40.0 L1954.9,40.0 L1948.1,56.9 L1860.0,60.3 L1870.0,60.3 L1821.9,59.2 L1794.8,56.9 L1788.0,56.9 Z" fill="#0e3f80"/>
</g>
<path d="M1677.3,56.3 L1695.4,60.3 L1722.5,64.9 L1742.8,73.9 L1776.7,92.0 L1817.4,104.4 L1870.0,110.0 L1860.0,110.0 L1950.4,106.7 L2013.6,96.5 L2052.0,94.2 L2142.4,88.6 L2244.1,76.2 L2262.2,70.5 L2311.9,56.9" fill="none" stroke="#222" stroke-width="1.2" stroke-linejoin="round"/>
<path d="M1736.0,56.9 L1754.1,61.5 L1788.0,67.1 L1817.4,75.0 L1870.0,85.2 L1860.0,84.1 L1882.6,87.4 L1927.8,78.4 L1941.3,67.1 L2027.2,56.9" fill="none" stroke="#222" stroke-width="1.2" stroke-linejoin="round"/>
<path d="M1794.8,56.9 L1821.9,59.2 L1870.0,60.3 L1860.0,60.3 L1948.1,56.9" fill="none" stroke="#222" stroke-width="1.2" stroke-linejoin="round"/>
<path d="M1490.2,73.9 L1686.3,68.2 L1690.8,71.6 L1704.4,87.4 L1715.7,98.7 L1742.8,112.3 L1776.7,125.9 L1817.4,137.2 L1849.0,139.4 L1860.0,143.9 L1882.6,145.1 L1950.4,139.4 L2006.9,131.5 L2076.9,132.6 L2142.4,129.2 L2207.9,119.1 L2212.5,125.9 L2232.8,142.8 L2272.3,150.7" fill="none" stroke="#222" stroke-width="1.2" stroke-linejoin="round"/>
<path d="M1490.2,94.2 L1493.1,101.0 L1505.6,105.5 L1555.3,116.8 L1573.3,110.0 L1580.1,98.7 L1620.8,89.7 L1650.2,99.9 L1663.7,111.2 L1686.3,123.6 L1715.7,137.2 L1754.1,153.0 L1788.0,165.4 L1828.7,174.4 L1853.5,191.4 L1870.0,202.7 L1860.0,202.7 L1882.6,211.7 L1887.1,219.6 L1945.9,240.0 L1986.5,246.7 L2013.6,249.0" fill="none" stroke="#222" stroke-width="1.2" stroke-linejoin="round"/>
<path d="M2020.4,243.3 L2040.8,218.5 L2074.6,198.2 L2122.1,174.4 L2142.4,167.7 L2149.2,171.0" fill="none" stroke="#222" stroke-width="1.2" stroke-linejoin="round"/>
<path d="M2006.9,69.4 L2018.2,67.6 L2054.3,69.4 L2085.9,72.8 L2095.0,75.0 L2076.9,79.5 L2018.2,75.0 L2006.9,71.6" fill="none" stroke="#222" stroke-width="1.2" stroke-linejoin="round"/>
<path d="M2307.4,85.2 L2296.1,89.7 L2278.0,96.5 L2296.1,105.5" fill="none" stroke="#222" stroke-width="1.2" stroke-linejoin="round"/>
<path d="M1490.2,225.3 L1516.9,246.7 L1541.7,275.0 L1571.1,311.1 L1618.5,340.0 L1620.8,342.9 L1663.7,353.1 L1697.6,358.7 L1754.1,358.7 L1821.9,349.7 L1870.0,347.4 L1860.0,347.4 L1948.1,340.7 L2008.0,314.0" fill="none" stroke="#222" stroke-width="1.2" stroke-linejoin="round"/>
<path d="M1490.2,260.3 L1501.0,277.2 L1507.8,314.5 L1537.2,340.0 L1555.3,357.6 L1636.6,381.3 L1677.3,397.2" fill="none" stroke="#222" stroke-width="1.2" stroke-linejoin="round"/>
<path d="M1717.9,415.2 L1740.5,423.8" fill="none" stroke="#222" stroke-width="1.2" stroke-linejoin="round"/>
<path d="M1783.5,423.8 L1817.4,416.4 L1870.0,411.8 L1860.0,411.8 L1882.6,411.2 L1896.2,423.8 L1921.0,463.8 L1909.7,480.8" fill="none" stroke="#222" stroke-width="1.2" stroke-linejoin="round"/>
</g>
<path d="M1378.4,55.1 L1387.2,55.1 L1392.9,59.6 L1398.1,62.6 L1403.0,63.5 L1407.6,66.4 L1412.5,69.8 L1416.6,78.9 L1420.0,89.0 L1423.4,103.7 L1426.8,119.5 L1429.7,137.6 L1432.4,155.7 L1435.1,176.0 L1438.1,196.3 L1440.3,214.4 L1443.2,230.2 L1446.0,237.0 L1448.2,250.6 L1450.5,268.6 L1452.3,291.2 L1453.9,313.8 L1452.7,336.6 L1455.0,381.8 L1457.3,438.3 L1459.5,483.5 L1461.8,528.6 L1464.0,562.5 L1465.2,572.9 L1379.8,572.9 Z" fill="#e7e7e7" stroke="#111" stroke-width="1.1" stroke-linejoin="round"/>
<path d="M1476.4,572.9 L1480.9,559.4 L1485.0,557.6 L1486.8,554.9 L1489.1,545.8 L1491.3,540.8 L1495.9,542.7 L1498.6,552.7 L1500.4,564.0 L1502.2,572.9 Z" fill="#e7e7e7" stroke="#111" stroke-width="1.1" stroke-linejoin="round"/>
<path d="M1601.9,572.9 L1604.1,551.2 L1607.5,524.1 L1610.9,510.6 L1615.4,501.5 L1619.9,497.0 L1624.5,499.3 L1629.0,508.3 L1633.5,514.0 L1642.5,494.7 L1653.8,465.4 L1665.1,433.7 L1674.2,402.1 L1679.8,375.0 L1687.7,386.3 L1696.8,388.1 L1699.0,386.3 L1705.8,393.1 L1710.3,399.9 L1716.0,413.4 L1719.3,438.3 L1723.9,483.5 L1728.4,528.6 L1732.9,572.9 Z" fill="#e7e7e7" stroke="#111" stroke-width="1.1" stroke-linejoin="round"/>
<path d="M1965.3,572.9 L1967.6,564.8 L1972.1,563.7 L1976.6,564.8 L1983.4,558.0 L1992.4,546.7 L1997.0,545.6 L2000.4,546.7 L2003.7,539.9 L2006.0,524.1 L2008.3,494.7 L2010.5,460.9 L2012.8,442.8 L2017.3,424.7 L2021.8,411.2 L2026.3,397.6 L2029.7,381.8 L2033.1,372.7 L2037.6,369.4 L2041.0,368.2 L2043.3,361.4 L2048.9,345.6 L2054.6,329.8 L2060.2,321.9 L2067.0,318.5 L2070.4,314.0 L2073.8,302.5 L2078.3,293.5 L2083.9,279.9 L2089.6,266.4 L2096.4,255.1 L2105.4,244.9 L2112.2,244.9 L2117.8,247.2 L2123.5,239.3 L2130.3,226.8 L2135.9,209.9 L2140.4,191.8 L2145.0,176.0 L2148.3,165.8 L2151.7,160.2 L2155.1,164.7 L2159.6,168.1 L2166.4,171.0 L2169.8,167.0 L2180.0,165.8 L2183.4,160.2 L2186.8,151.2 L2189.5,146.6 L2194.7,148.9 L2200.3,152.3 L2207.1,157.9 L2211.6,162.4 L2216.1,173.7 L2221.8,191.8 L2226.3,209.9 L2230.8,225.7 L2235.3,240.4 L2241.0,232.5 L2248.9,222.3 L2254.5,221.2 L2259.1,215.5 L2265.8,200.9 L2272.6,182.8 L2278.3,164.7 L2283.9,142.1 L2289.6,115.0 L2291.8,110.5 L2298.6,96.9 L2305.4,87.9 L2312.1,81.1 L2322.3,77.7 L2328.0,74.3 L2331.4,67.6 L2334.1,59.6 L2338.1,55.6 L2350.8,55.1 L2350.8,572.9 Z" fill="#e7e7e7" stroke="#111" stroke-width="1.1" stroke-linejoin="round"/>
<path d="M1860.0,571.1 L1860.0,571.1" fill="none" stroke="#111" stroke-width="1" stroke-linejoin="round"/>
</g>
<path d="M1379.8,55.7V573.2H2352.0" fill="none" stroke="#404040" stroke-width="1.6"/>
<path d="M2352.0,55.7V573.2" fill="none" stroke="#404040" stroke-width="1.4"/>
<path d="M1369.8,57.2H1379.8" stroke="#404040" stroke-width="1.6"/>
<text x="1360.2" y="70.5" text-anchor="end" font-size="31" fill="#000">10</text>
<path d="M1369.8,96.6H1379.8" stroke="#404040" stroke-width="1.6"/>
<text x="1360.2" y="109.9" text-anchor="end" font-size="31" fill="#000">200</text>
<path d="M1369.8,158.7H1379.8" stroke="#404040" stroke-width="1.6"/>
<text x="1360.2" y="172.0" text-anchor="end" font-size="31" fill="#000">500</text>
<path d="M1369.8,220.9H1379.8" stroke="#404040" stroke-width="1.6"/>
<text x="1360.2" y="234.2" text-anchor="end" font-size="31" fill="#000">800</text>
<path d="M1369.8,366.0H1379.8" stroke="#404040" stroke-width="1.6"/>
<text x="1360.2" y="379.3" text-anchor="end" font-size="31" fill="#000">1500</text>
<path d="M1369.8,573.2H1379.8" stroke="#404040" stroke-width="1.6"/>
<text x="1360.2" y="586.5" text-anchor="end" font-size="31" fill="#000">2500</text>
<path d="M1379.8,573.2V583.2" stroke="#404040" stroke-width="1.5"/>
<path d="M1407.6,573.2V578.7" stroke="#404040" stroke-width="1.5"/>
<path d="M1435.4,573.2V578.7" stroke="#404040" stroke-width="1.5"/>
<path d="M1463.1,573.2V578.7" stroke="#404040" stroke-width="1.5"/>
<path d="M1490.9,573.2V578.7" stroke="#404040" stroke-width="1.5"/>
<path d="M1518.7,573.2V583.2" stroke="#404040" stroke-width="1.5"/>
<path d="M1546.5,573.2V578.7" stroke="#404040" stroke-width="1.5"/>
<path d="M1574.2,573.2V578.7" stroke="#404040" stroke-width="1.5"/>
<path d="M1602.0,573.2V578.7" stroke="#404040" stroke-width="1.5"/>
<path d="M1629.8,573.2V578.7" stroke="#404040" stroke-width="1.5"/>
<path d="M1657.6,573.2V583.2" stroke="#404040" stroke-width="1.5"/>
<path d="M1685.3,573.2V578.7" stroke="#404040" stroke-width="1.5"/>
<path d="M1713.1,573.2V578.7" stroke="#404040" stroke-width="1.5"/>
<path d="M1740.9,573.2V578.7" stroke="#404040" stroke-width="1.5"/>
<path d="M1768.7,573.2V578.7" stroke="#404040" stroke-width="1.5"/>
<path d="M1796.5,573.2V583.2" stroke="#404040" stroke-width="1.5"/>
<path d="M1824.2,573.2V578.7" stroke="#404040" stroke-width="1.5"/>
<path d="M1852.0,573.2V578.7" stroke="#404040" stroke-width="1.5"/>
<path d="M1879.8,573.2V578.7" stroke="#404040" stroke-width="1.5"/>
<path d="M1907.6,573.2V578.7" stroke="#404040" stroke-width="1.5"/>
<path d="M1935.3,573.2V583.2" stroke="#404040" stroke-width="1.5"/>
<path d="M1963.1,573.2V578.7" stroke="#404040" stroke-width="1.5"/>
<path d="M1990.9,573.2V578.7" stroke="#404040" stroke-width="1.5"/>
<path d="M2018.7,573.2V578.7" stroke="#404040" stroke-width="1.5"/>
<path d="M2046.5,573.2V578.7" stroke="#404040" stroke-width="1.5"/>
<path d="M2074.2,573.2V583.2" stroke="#404040" stroke-width="1.5"/>
<path d="M2102.0,573.2V578.7" stroke="#404040" stroke-width="1.5"/>
<path d="M2129.8,573.2V578.7" stroke="#404040" stroke-width="1.5"/>
<path d="M2157.6,573.2V578.7" stroke="#404040" stroke-width="1.5"/>
<path d="M2185.3,573.2V578.7" stroke="#404040" stroke-width="1.5"/>
<path d="M2213.1,573.2V583.2" stroke="#404040" stroke-width="1.5"/>
<path d="M2240.9,573.2V578.7" stroke="#404040" stroke-width="1.5"/>
<path d="M2268.7,573.2V578.7" stroke="#404040" stroke-width="1.5"/>
<path d="M2296.4,573.2V578.7" stroke="#404040" stroke-width="1.5"/>
<path d="M2324.2,573.2V578.7" stroke="#404040" stroke-width="1.5"/>
<path d="M2352.0,573.2V583.2" stroke="#404040" stroke-width="1.5"/>
<text x="1350.1" y="623.2" font-size="30.5" fill="#000">18.5<tspan fill="#555">N</tspan></text>
<text x="1501.7" y="623.2" font-size="30.5" fill="#000">19<tspan fill="#555">N</tspan></text>
<text x="1627.9" y="623.2" font-size="30.5" fill="#000">19.5<tspan fill="#555">N</tspan></text>
<text x="1779.5" y="623.2" font-size="30.5" fill="#000">20<tspan fill="#555">N</tspan></text>
<text x="1905.7" y="623.2" font-size="30.5" fill="#000">20.5<tspan fill="#555">N</tspan></text>
<text x="2057.3" y="623.2" font-size="30.5" fill="#000">21<tspan fill="#555">N</tspan></text>
<text x="2183.4" y="623.2" font-size="30.5" fill="#000">21.5<tspan fill="#555">N</tspan></text>
<text x="2335.0" y="623.2" font-size="30.5" fill="#000">22<tspan fill="#555">N</tspan></text>
</g>
<g id="pc">
<clipPath id="clipc"><rect x="135.3" y="646.0" width="982.3" height="517.8"/></clipPath>
<g clip-path="url(#clipc)">
<clipPath id="dc"><path d="M135.3,647.6 L956.7,647.6 L956.7,720.2 L940.7,720.2 L940.7,758.7 L924.6,758.7 L924.6,806.9 L873.3,806.9 L870.1,851.8 L858.9,851.8 L858.9,925.6 L842.8,1002.6 L825.2,1031.5 L805.9,1058.8 L775.4,1058.8 L775.4,1113.4 L759.4,1113.4 L759.4,1140.6 L719.3,1140.6 L719.3,1166.0 L525.9,1166.0 L525.9,925.6 L476.2,925.6 L476.2,1166.0 L380.0,1166.0 L300.0,1100.0 L240.0,900.0 L218.3,853.4 L218.3,784.4 L165.3,784.4 L165.3,733.0 L149.3,733.0 L149.3,672.0 L135.3,672.0 Z"/></clipPath>
<g clip-path="url(#dc)">
<path d="M135.3,647.6 L956.7,647.6 L956.7,720.2 L940.7,720.2 L940.7,758.7 L924.6,758.7 L924.6,806.9 L873.3,806.9 L870.1,851.8 L858.9,851.8 L858.9,925.6 L842.8,1002.6 L825.2,1031.5 L805.9,1058.8 L775.4,1058.8 L775.4,1113.4 L759.4,1113.4 L759.4,1140.6 L719.3,1140.6 L719.3,1166.0 L525.9,1166.0 L525.9,925.6 L476.2,925.6 L476.2,1166.0 L380.0,1166.0 L300.0,1100.0 L240.0,900.0 L218.3,853.4 L218.3,784.4 L165.3,784.4 L165.3,733.0 L149.3,733.0 L149.3,672.0 L135.3,672.0 Z" fill="#f0a464"/>
<path d="M148.0,660.0 L763.0,660.0 L763.0,760.0 L700.0,790.0 L600.0,800.0 L450.0,790.0 L300.0,770.0 L148.0,760.0 Z" fill="#ee7f00"/>
<path d="M187.8,649.0 L309.7,649.0 L309.7,658.6 L187.8,659.3 Z" fill="#f0fdfd"/>
<path d="M178.1,678.5 L226.3,675.3 L235.9,694.6 L226.3,717.0 L187.8,720.2 L174.9,704.2 Z" fill="#fde3b4"/>
<path d="M184.6,688.1 L213.4,684.9 L216.6,707.4 L194.2,712.2 Z" fill="#fff4e8"/>
<path d="M277.6,678.5 L354.6,675.3 L354.6,717.0 L338.6,742.7 L309.7,742.7 L284.0,717.0 Z" fill="#fde3b4"/>
<path d="M303.3,710.6 L329.0,710.6 L332.2,733.1 L312.9,736.3 Z" fill="#fff4e8"/>
<path d="M348.2,652.8 L434.9,652.8 L431.7,697.8 L406.0,710.6 L361.1,710.6 L348.2,688.1 Z" fill="#fde3b4"/>
<path d="M351.4,659.3 L428.5,659.3 L425.3,694.6 L393.2,704.2 L361.1,701.0 Z" fill="#f0fdfd"/>
<path d="M165.3,755.5 L235.9,758.7 L252.0,778.0 L235.9,800.5 L219.9,806.9 L194.2,794.0 L165.3,784.4 Z" fill="#f0fdfd"/>
<path d="M184.6,765.2 L223.1,768.4 L235.9,790.8 L213.4,797.3 L194.2,784.4 Z" fill="#e0ecf8"/>
<path d="M203.8,778.0 L223.1,781.2 L218.3,790.8 Z" fill="#4875f8"/>
<path d="M219.9,806.9 L252.0,813.3 L280.8,839.0 L296.9,871.1 L284.0,896.7 L252.0,883.9 L226.3,851.8 Z" fill="#f0fdfd"/>
<path d="M252.0,832.6 L277.6,839.0 L280.8,861.4 L264.8,864.6 Z" fill="#e0ecf8"/>
<path d="M258.4,896.7 L296.9,916.0 L316.1,922.4 L329.0,960.9 L341.8,1009.1 L335.4,1063.6 L300.1,1063.6 L284.0,1025.1 L264.8,986.6 L258.4,944.9 Z" fill="#f0fdfd"/>
<path d="M271.2,948.1 L296.9,919.2 L309.7,922.4 L322.6,960.9 L335.4,1009.1 L329.0,1060.4 L304.9,1060.4 L290.5,1025.1 L274.4,993.0 Z" fill="#e0ecf8"/>
<path d="M284.0,948.1 L300.1,922.4 L312.9,948.1 L325.8,993.0 L325.8,1060.4 L304.9,1060.4 L296.9,1009.1 Z" fill="#55a8e8" stroke="#1a1a1a" stroke-width="1.1" stroke-linejoin="round"/>
<path d="M303.3,973.8 L316.1,993.0 L322.6,1057.2 L304.9,1057.2 Z" fill="#4875f8"/>
<path d="M354.6,1057.2 L373.9,1041.2 L383.5,1089.3 L367.5,1095.7 Z" fill="#e0ecf8"/>
<path d="M319.3,806.9 L338.6,778.0 L361.1,778.0 L383.5,806.9 L386.7,864.6 L383.5,928.8 L373.9,980.2 L354.6,999.4 L335.4,980.2 L322.6,928.8 L316.1,864.6 Z" fill="#f0fdfd"/>
<path d="M329.0,806.9 L341.8,784.4 L354.6,784.4 L373.9,806.9 L380.3,864.6 L377.1,928.8 L367.5,977.0 L354.6,993.0 L338.6,977.0 L329.0,928.8 L322.6,864.6 Z" fill="#e0ecf8"/>
<path d="M338.6,813.3 L351.4,800.5 L364.3,819.7 L369.1,896.7 L361.1,960.9 L351.4,973.8 L341.8,944.9 L335.4,880.7 Z" fill="#a8d4e2"/>
<path d="M348.2,819.7 L357.9,813.3 L361.1,896.7 L356.3,973.8 L351.4,960.9 L348.2,883.9 Z" fill="#55a8e8" stroke="#1a1a1a" stroke-width="1.1" stroke-linejoin="round"/>
<path d="M399.6,774.8 L422.0,758.7 L444.5,771.6 L457.3,806.9 L457.3,896.7 L450.9,948.1 L434.9,967.3 L415.6,964.1 L406.0,928.8 L401.2,864.6 L398.0,800.5 Z" fill="#f0fdfd"/>
<path d="M409.2,781.2 L425.3,765.2 L441.3,778.0 L450.9,810.1 L450.9,896.7 L442.9,944.9 L431.7,957.7 L418.8,957.7 L410.8,922.4 L407.6,864.6 L406.0,800.5 Z" fill="#e0ecf8"/>
<path d="M415.6,813.3 L438.1,810.1 L442.9,864.6 L438.1,928.8 L425.3,941.7 L418.8,896.7 Z" fill="#a8d4e2"/>
<path d="M561.2,781.2 L599.7,778.0 L644.6,797.3 L679.9,829.3 L699.2,880.7 L705.6,928.8 L699.2,964.1 L676.7,973.8 L641.4,967.3 L609.3,948.1 L583.7,916.0 L567.6,871.1 L558.0,832.6 Z" fill="#fde3b4"/>
<path d="M564.4,784.4 L599.7,781.2 L644.6,800.5 L676.7,832.6 L696.0,880.7 L702.4,928.8 L696.0,960.9 L676.7,970.6 L644.6,964.1 L612.6,944.9 L586.9,912.8 L570.8,871.1 L561.2,832.6 Z" fill="#f0fdfd"/>
<path d="M580.5,806.9 L606.1,794.0 L644.6,813.3 L670.3,845.4 L686.4,896.7 L686.4,948.1 L657.5,954.5 L619.0,935.3 L593.3,896.7 L580.5,848.6 Z" fill="#e0ecf8"/>
<path d="M590.1,819.7 L625.4,819.7 L628.6,845.4 L612.6,883.9 L593.3,864.6 Z" fill="#d2ebe6"/>
<path d="M651.1,980.2 L676.7,973.8 L702.4,993.0 L708.8,1057.2 L702.4,1153.5 L676.7,1159.9 L663.9,1089.3 Z" fill="#fde3b4"/>
<path d="M663.9,1009.1 L689.6,999.4 L699.2,1057.2 L692.8,1153.5 L679.9,1153.5 L670.3,1089.3 Z" fill="#fff4e8"/>
<path d="M548.4,1009.1 L580.5,1005.9 L593.3,1057.2 L586.9,1105.3 L561.2,1105.3 L548.4,1057.2 Z" fill="#fff4e8"/>
<path d="M554.8,1025.1 L574.0,1028.3 L570.8,1057.2 L561.2,1057.2 Z" fill="#f0fdfd"/>
<path d="M574.0,648.0 L715.3,648.0 L715.3,678.5 L702.4,691.3 L644.6,694.6 L599.7,678.5 Z" fill="#f0fdfd"/>
<path d="M580.5,648.0 L708.8,648.0 L702.4,678.5 L663.9,684.9 L619.0,675.3 Z" fill="#e0ecf8"/>
<path d="M596.5,649.6 L696.0,652.8 L683.2,675.3 L644.6,675.3 L612.6,662.5 Z" fill="#a8d4e2"/>
<path d="M625.4,652.8 L683.2,659.3 L676.7,672.1 L644.6,668.9 Z" fill="#4875f8"/>
<path d="M464.9,652.8 L574.0,649.6 L580.5,675.3 L548.4,691.3 L500.2,681.7 L468.1,675.3 Z" fill="#fde3b4"/>
<path d="M747.3,691.3 L779.4,668.9 L817.9,665.7 L837.2,678.5 L844.4,768.4 L846.0,928.8 L842.8,1002.6 L825.2,1031.5 L805.9,1034.7 L780.2,1044.4 L757.8,1025.1 L754.6,960.9 L751.3,864.6 L748.1,768.4 L760.2,864.6 L750.6,800.5 L747.3,736.3 Z" fill="#f0fdfd"/>
<path d="M760.2,704.2 L785.9,675.3 L817.9,672.1 L834.0,688.1 L834.8,768.4 L838.0,928.8 L834.8,993.0 L822.0,1018.7 L796.3,1018.7 L770.6,1009.1 L761.0,960.9 L757.8,864.6 L754.6,774.8 L766.6,832.6 L760.2,768.4 Z" fill="#e0ecf8"/>
<path d="M780.2,684.9 L805.9,681.7 L828.4,720.2 L831.6,832.6 L834.8,928.8 L828.4,993.0 L805.9,1009.1 L780.2,993.0 L767.4,944.9 L764.2,864.6 L761.0,800.5 L773.8,736.3 Z" fill="#a8d4e2"/>
<path d="M793.1,688.1 L809.1,688.1 L828.4,729.9 L828.4,864.6 L825.2,960.9 L812.3,980.2 L799.5,960.9 L796.3,864.6 L793.1,768.4 Z" fill="#55a8e8" stroke="#1a1a1a" stroke-width="1.1" stroke-linejoin="round"/>
<path d="M802.7,736.3 L822.0,729.9 L826.8,832.6 L822.0,944.9 L810.7,973.8 L802.7,928.8 L801.1,832.6 Z" fill="#4875f8"/>
<path d="M807.5,790.8 L815.5,797.3 L812.3,848.6 L809.1,848.6 Z" fill="#134e8e"/>
<path d="M767.4,877.5 L780.2,871.1 L786.6,928.8 L777.0,964.1 L767.4,928.8 Z" fill="#4875f8"/>
<path d="M866.9,648.0 L956.7,648.0 L956.7,806.9 L873.3,806.9 L870.1,736.3 Z" fill="#e0ecf8"/>
<path d="M879.7,648.0 L956.7,648.0 L956.7,758.7 L921.4,755.5 L899.0,736.3 L882.9,688.1 Z" fill="#a8d4e2"/>
<path d="M892.6,649.6 L956.7,649.6 L956.7,736.3 L924.6,733.1 L905.4,704.2 L895.8,672.1 Z" fill="#4875f8"/>
<path d="M908.6,668.9 L931.1,665.7 L956.7,678.5 L956.7,713.8 L924.6,707.4 L911.8,688.1 Z" fill="#1a73cc"/>
<path d="M921.4,675.3 L956.7,684.9 L956.7,707.4 L931.1,701.0 Z" fill="#134e8e"/>
<path d="M134.8,648.0 L149.3,648.0 L149.3,668.9 L134.8,668.9 Z" fill="#eb0000"/>
<path d="M134.8,649.6 L146.0,649.6 L146.0,662.5 L134.8,662.5 Z" fill="#c80000"/>
<path d="M252.0,659.3 L348.2,656.0 L351.4,675.3 L322.6,678.5 L274.4,676.9 L252.0,672.1 Z" fill="#eb0000"/>
<path d="M284.0,665.7 L322.6,667.3 L309.7,673.7 Z" fill="#c80000"/>
<path d="M420.0,652.8 L464.9,652.8 L468.1,672.1 L439.3,675.3 L420.0,672.1 Z" fill="#eb0000"/>
<path d="M708.8,649.6 L830.8,649.6 L830.8,665.7 L805.1,675.3 L740.9,675.3 L715.3,668.9 Z" fill="#eb0000"/>
<path d="M721.7,652.8 L773.0,652.8 L773.0,670.5 L734.5,672.1 Z" fill="#c80000"/>
<path d="M830.8,649.6 L850.0,649.6 L850.0,704.2 L837.2,688.1 Z" fill="#ee7f00"/>
<path d="M700.0,648.0 L764.2,648.0 L764.2,662.5 L732.1,675.3 L700.0,675.3 Z" fill="#eb0000"/>
<path d="M764.2,648.0 L834.8,648.0 L844.4,659.3 L838.0,678.5 L796.3,672.1 L764.2,662.5 Z" fill="#ee7f00" stroke="#1a1a1a" stroke-width="1.1" stroke-linejoin="round"/>
<path d="M149.3,672.1 L171.7,675.3 L187.8,704.2 L171.7,720.2 L149.3,710.6 Z" fill="#ee7f00" stroke="#1a1a1a" stroke-width="1.1" stroke-linejoin="round"/>
<path d="M149.3,675.3 L168.5,678.5 L171.7,691.3 L149.3,694.6 Z" fill="#eb0000"/>
<path d="M149.3,713.8 L194.2,717.0 L226.3,723.4 L252.0,710.6 L268.0,723.4 L271.2,745.9 L252.0,752.3 L194.2,745.9 L165.3,749.1 L149.3,739.5 Z" fill="#dd3311"/>
<path d="M149.3,718.6 L191.0,721.8 L219.9,729.9 L248.7,717.0 L264.8,729.9 L264.8,742.7 L245.5,745.9 L194.2,739.5 L165.3,742.7 L149.3,733.1 Z" fill="#eb0000"/>
<path d="M149.3,720.2 L168.5,723.4 L174.9,733.1 L149.3,733.1 Z" fill="#7f0000"/>
<path d="M252.0,694.6 L271.2,696.2 L268.0,709.0 Z" fill="#c8641e"/>
<path d="M258.4,774.8 L274.4,774.8 L280.8,794.0 L268.0,797.3 Z" fill="#ee7f00"/>
<path d="M287.3,749.1 L309.7,742.7 L329.0,768.4 L325.8,819.7 L309.7,845.4 L296.9,819.7 L287.3,784.4 Z" fill="#ee7f00" stroke="#1a1a1a" stroke-width="1.1" stroke-linejoin="round"/>
<path d="M293.7,768.4 L309.7,762.0 L322.6,787.6 L316.1,819.7 L304.9,832.6 L296.9,806.9 Z" fill="#c8641e"/>
<path d="M298.5,778.0 L309.7,781.2 L314.5,806.9 L304.9,819.7 L300.1,800.5 Z" fill="#eb0000"/>
<path d="M329.0,694.6 L354.6,694.6 L386.7,723.4 L406.0,752.3 L402.8,806.9 L393.2,845.4 L380.3,851.8 L361.1,819.7 L348.2,774.8 L335.4,736.3 Z" fill="#ee7f00" stroke="#1a1a1a" stroke-width="1.1" stroke-linejoin="round"/>
<path d="M341.8,704.2 L361.1,704.2 L386.7,736.3 L393.2,784.4 L386.7,832.6 L373.9,819.7 L361.1,774.8 L348.2,736.3 Z" fill="#c8641e"/>
<path d="M361.1,742.7 L380.3,745.9 L393.2,787.6 L386.7,832.6 L377.1,819.7 L367.5,784.4 Z" fill="#eb0000"/>
<path d="M367.5,903.2 L386.7,883.9 L406.0,912.8 L409.2,993.0 L412.4,1089.3 L406.0,1153.5 L393.2,1163.1 L380.3,1121.4 L373.9,1025.1 L364.3,960.9 Z" fill="#ee7f00" stroke="#1a1a1a" stroke-width="1.1" stroke-linejoin="round"/>
<path d="M367.5,967.3 L386.7,967.3 L389.9,1002.6 L373.9,1005.9 Z" fill="#c8641e"/>
<path d="M431.7,922.4 L454.1,916.0 L470.2,960.9 L476.6,1057.2 L470.2,1163.1 L438.1,1163.1 L431.7,1089.3 L428.5,993.0 Z" fill="#ee7f00" stroke="#1a1a1a" stroke-width="1.1" stroke-linejoin="round"/>
<path d="M436.5,1025.1 L454.1,1018.7 L463.8,1073.2 L460.6,1121.4 L444.5,1121.4 L438.1,1073.2 Z" fill="#dd3311"/>
<path d="M439.7,1037.9 L452.5,1034.7 L458.9,1082.9 L452.5,1115.0 L442.9,1102.1 Z" fill="#eb0000"/>
<path d="M406.0,1121.4 L438.1,1127.8 L438.1,1163.1 L406.0,1163.1 Z" fill="#eb0000"/>
<path d="M426.4,697.8 L452.1,681.7 L484.2,678.5 L513.1,694.6 L522.7,707.4 L548.4,704.2 L577.3,710.6 L602.9,736.3 L599.7,768.4 L577.3,794.0 L558.0,810.1 L545.2,826.1 L532.3,845.4 L522.7,871.1 L509.9,903.2 L500.2,916.0 L484.2,890.3 L468.1,871.1 L455.3,845.4 L439.3,806.9 L426.4,758.7 Z" fill="#c8641e"/>
<path d="M429.6,697.8 L452.1,684.9 L484.2,681.7 L509.9,697.8 L516.3,710.6 L548.4,707.4 L574.0,713.8 L599.7,736.3 L593.3,768.4 L574.0,790.8 L554.8,806.9 L542.0,819.7 L529.1,839.0 L516.3,864.6 L500.2,896.7 L484.2,883.9 L468.1,864.6 L458.5,839.0 L445.7,800.5 L432.8,752.3 Z" fill="#dd3311"/>
<path d="M432.8,704.2 L458.5,691.3 L477.8,720.2 L503.4,723.4 L516.3,717.0 L554.8,723.4 L590.1,742.7 L574.0,774.8 L542.0,800.5 L522.7,794.0 L503.4,819.7 L484.2,845.4 L471.3,832.6 L461.7,781.2 L439.3,745.9 Z" fill="#eb0000"/>
<path d="M516.3,720.2 L551.6,729.9 L564.4,762.0 L554.8,784.4 L532.3,781.2 L519.5,752.3 Z" fill="#c80000" stroke="#1a1a1a" stroke-width="1.1" stroke-linejoin="round"/>
<path d="M529.1,733.1 L548.4,739.5 L558.0,765.2 L548.4,778.0 L535.5,774.8 Z" fill="#7f0000"/>
<path d="M481.0,729.9 L497.0,726.6 L500.2,752.3 L484.2,755.5 Z" fill="#fde3b4"/>
<path d="M436.0,704.2 L452.1,707.4 L442.5,720.2 Z" fill="#c80000"/>
<path d="M516.3,858.2 L554.8,851.8 L586.9,883.9 L599.7,935.3 L590.1,964.1 L567.6,964.1 L548.4,944.9 L525.9,928.8 L516.3,896.7 Z" fill="#c8641e"/>
<path d="M522.7,871.1 L554.8,864.6 L577.3,896.7 L583.7,938.5 L570.8,954.5 L548.4,935.3 L529.1,912.8 Z" fill="#eb0000"/>
<path d="M535.5,883.9 L554.8,880.7 L561.2,912.8 L548.4,922.4 Z" fill="#c80000"/>
<path d="M525.9,960.9 L554.8,954.5 L599.7,973.8 L599.7,1025.1 L593.3,1089.3 L599.7,1153.5 L554.8,1159.9 L529.1,1121.4 L525.9,1057.2 Z" fill="#ee7f00" stroke="#1a1a1a" stroke-width="1.1" stroke-linejoin="round"/>
<path d="M548.4,1009.1 L580.5,1005.9 L593.3,1057.2 L586.9,1105.3 L561.2,1105.3 L548.4,1057.2 Z" fill="#fde3b4"/>
<path d="M532.3,999.4 L548.4,999.4 L551.6,1073.2 L538.7,1082.9 L532.3,1041.2 Z" fill="#eb0000"/>
<path d="M602.9,973.8 L638.2,973.8 L657.5,993.0 L657.5,1057.2 L644.6,1121.4 L641.4,1159.9 L609.3,1159.9 L606.1,1089.3 L606.1,1025.1 Z" fill="#ee7f00" stroke="#1a1a1a" stroke-width="1.1" stroke-linejoin="round"/>
<path d="M612.6,986.6 L641.4,986.6 L651.1,1025.1 L644.6,1089.3 L638.2,1140.6 L612.6,1140.6 L612.6,1057.2 Z" fill="#dd3311"/>
<path d="M619.0,996.2 L638.2,996.2 L644.6,1041.2 L635.0,1089.3 L625.4,1134.2 L615.8,1121.4 L615.8,1057.2 Z" fill="#eb0000"/>
<path d="M631.8,704.2 L670.3,694.6 L708.8,710.6 L728.1,736.3 L718.5,768.4 L708.8,800.5 L702.4,848.6 L683.2,858.2 L663.9,832.6 L644.6,800.5 L635.0,762.0 Z" fill="#c8641e"/>
<path d="M638.2,710.6 L670.3,701.0 L702.4,713.8 L718.5,736.3 L708.8,762.0 L702.4,784.4 L696.0,832.6 L683.2,839.0 L670.3,826.1 L651.1,800.5 L641.4,768.4 L638.2,736.3 Z" fill="#dd3311"/>
<path d="M644.6,723.4 L670.3,713.8 L699.2,726.6 L705.6,745.9 L696.0,784.4 L689.6,819.7 L676.7,826.1 L657.5,794.0 L647.9,762.0 Z" fill="#eb0000"/>
<path d="M651.1,745.9 L663.9,749.1 L670.3,800.5 L660.7,806.9 L654.3,784.4 Z" fill="#c80000" stroke="#1a1a1a" stroke-width="1.1" stroke-linejoin="round"/>
<path d="M689.6,794.0 L702.4,800.5 L702.4,819.7 L692.8,819.7 Z" fill="#fde3b4"/>
<path d="M731.3,739.5 L760.2,736.3 L779.4,762.0 L776.2,790.8 L753.8,794.0 L734.5,768.4 Z" fill="#dd3311"/>
<path d="M737.7,745.9 L757.0,742.7 L769.8,768.4 L763.4,784.4 L747.3,774.8 Z" fill="#eb0000"/>
<path d="M708.8,819.7 L734.5,813.3 L753.8,839.0 L760.2,928.8 L763.4,1025.1 L766.6,1121.4 L760.2,1140.6 L721.7,1153.5 L708.8,1057.2 L702.4,960.9 L702.4,896.7 Z" fill="#ee7f00" stroke="#1a1a1a" stroke-width="1.1" stroke-linejoin="round"/>
<path d="M715.3,839.0 L737.7,832.6 L753.8,880.7 L757.0,960.9 L740.9,986.6 L728.1,960.9 L718.5,912.8 Z" fill="#c8641e"/>
<path d="M718.5,861.4 L734.5,858.2 L737.7,916.0 L724.9,912.8 Z" fill="#eb0000"/>
<path d="M731.3,916.0 L750.6,922.4 L753.8,973.8 L740.9,980.2 L732.9,954.5 Z" fill="#eb0000"/>
<path d="M721.7,1041.2 L760.2,1037.9 L763.4,1140.6 L724.9,1150.3 Z" fill="#dd3311"/>
<path d="M724.9,1057.2 L757.0,1050.8 L760.2,1134.2 L728.1,1143.9 Z" fill="#eb0000"/>
<path d="M838.0,659.3 L860.5,659.3 L873.3,736.3 L870.1,928.8 L858.9,928.8 L847.6,832.6 L841.2,736.3 Z" fill="#ee7f00" stroke="#1a1a1a" stroke-width="1.1" stroke-linejoin="round"/>
<path d="M844.4,688.1 L857.3,688.1 L866.9,768.4 L866.9,848.6 L857.3,848.6 L850.8,768.4 Z" fill="#c8641e"/>
<path d="M850.8,790.8 L868.5,794.0 L868.5,845.4 L857.3,845.4 Z" fill="#eb0000"/>
<path d="M854.0,887.1 L860.5,887.1 L858.9,916.0 L854.0,916.0 Z" fill="#eb0000"/>
<path d="M135.3,647.6 L190.0,647.6 L196.0,653.0 L250.0,656.0 L256.0,662.0 L200.0,665.0 L150.0,664.0 L135.3,662.0 Z" fill="#eb0000"/>
<path d="M135.3,650.0 L170.0,650.0 L180.0,656.0 L150.0,660.0 L135.3,659.0 Z" fill="#c80000"/>
<path d="M150.0,657.0 L200.0,655.5 L260.0,657.5 L330.0,656.5 L400.0,659.0 L460.0,660.0 L520.0,661.0" fill="none" stroke="#111" stroke-width="1.6" stroke-linejoin="round"/>
<path d="M230.0,651.0 L300.0,650.0 L380.0,651.5 L440.0,652.0" fill="none" stroke="#222" stroke-width="1.1" stroke-linejoin="round"/>
<path d="M440.0,650.0 L560.0,649.5 L620.0,651.0 L700.0,653.0" fill="none" stroke="#222" stroke-width="1.1" stroke-linejoin="round"/>
<path d="M780.0,650.0 L900.0,651.0 L956.0,651.5" fill="none" stroke="#333" stroke-width="1.0" stroke-linejoin="round"/>
</g>
<path d="M134.5,672.1 L135.1,672.1 L138.0,668.9 L141.2,678.5 L144.4,720.2 L147.7,768.4 L150.9,790.8 L154.1,797.3 L158.9,794.0 L165.3,806.9 L170.1,819.7 L174.9,829.3 L179.7,839.0 L183.0,845.4 L187.8,839.0 L191.0,855.0 L195.8,861.4 L200.6,855.0 L205.4,861.4 L210.2,858.2 L215.0,861.4 L219.9,855.0 L226.3,861.4 L235.9,858.2 L242.3,864.6 L247.1,883.9 L250.3,877.5 L253.6,896.7 L256.8,903.2 L258.4,919.2 L261.6,938.5 L264.8,960.9 L268.0,980.2 L271.2,999.4 L274.4,1018.7 L279.2,1025.1 L284.0,1037.9 L290.5,1050.8 L296.9,1057.2 L300.1,1063.6 L309.7,1070.0 L316.1,1082.9 L322.6,1095.7 L325.8,1105.3 L332.2,1082.9 L338.6,1060.4 L341.8,1073.2 L345.0,1095.7 L351.4,1111.8 L361.1,1121.4 L370.7,1127.8 L377.1,1140.6 L383.5,1147.1 L386.7,1166.3 L134.5,1164.2 Z" fill="#e7e7e7" stroke="#111" stroke-width="1.1" stroke-linejoin="round"/>
<path d="M450.9,1166.3 L454.1,1140.6 L457.3,1121.4 L460.6,1140.6 L463.8,1166.3 Z" fill="#e7e7e7" stroke="#111" stroke-width="1.0" stroke-linejoin="round"/>
<path d="M490.6,1166.3 L493.8,1057.2 L497.0,986.6 L500.2,1057.2 L505.0,1140.6 L513.1,1166.3 Z" fill="#e7e7e7" stroke="#111" stroke-width="1.0" stroke-linejoin="round"/>
<path d="M548.4,1166.3 L554.8,1153.5 L558.0,1150.3 L561.2,1140.6 L570.8,1134.2 L580.5,1153.5 L586.9,1095.7 L590.1,1121.4 L594.9,1098.9 L599.7,1153.5 L612.6,1150.3 L619.0,1156.7 L628.6,1159.9 L644.6,1150.3 L651.1,1147.1 L663.9,1156.7 L676.7,1153.5 L686.4,1159.9 L696.0,1156.7 L708.8,1159.9 L715.3,1140.6 L728.1,1147.1 L740.9,1140.6 L760.2,1134.2 L724.1,1137.4 L730.5,1140.6 L738.5,1143.9 L744.9,1150.3 L751.3,1140.6 L761.0,1134.2 L767.4,1127.8 L780.2,1115.0 L793.1,1105.3 L802.7,1095.7 L804.3,1073.2 L805.9,1041.2 L809.1,1015.5 L812.3,1044.4 L817.1,1070.0 L822.0,1057.2 L828.4,1047.6 L834.8,1041.2 L841.2,1025.1 L847.6,1005.9 L850.8,989.8 L857.3,981.8 L865.3,977.0 L866.9,944.9 L868.5,864.6 L870.1,784.4 L871.7,739.5 L873.3,784.4 L876.5,819.7 L879.7,845.4 L881.3,867.9 L886.1,877.5 L890.9,883.9 L894.2,871.1 L899.0,877.5 L902.2,890.3 L907.0,883.9 L911.8,858.2 L916.6,835.8 L921.4,864.6 L924.6,890.3 L927.9,906.4 L931.1,896.7 L937.5,883.9 L940.7,864.6 L943.9,832.6 L947.1,826.1 L950.3,819.7 L956.7,806.9 L961.6,774.8 L966.4,736.3 L972.8,694.6 L979.2,662.5 L990.4,649.0 L995.3,649.6 L998.5,665.7 L1001.7,649.6 L1118.8,649.6 L1118.8,1166.3 L548.4,1166.3 Z" fill="#e7e7e7" stroke="#111" stroke-width="1.1" stroke-linejoin="round"/>
</g>
<path d="M135.3,646.5V1163.8H1117.6" fill="none" stroke="#404040" stroke-width="1.6"/>
<path d="M125.3,648.0H135.3" stroke="#404040" stroke-width="1.6"/>
<text x="115.7" y="661.3" text-anchor="end" font-size="31" fill="#000">10</text>
<path d="M125.3,672.6H135.3" stroke="#404040" stroke-width="1.6"/>
<text x="115.7" y="685.9" text-anchor="end" font-size="31" fill="#000">200</text>
<path d="M125.3,711.3H135.3" stroke="#404040" stroke-width="1.6"/>
<text x="115.7" y="724.6" text-anchor="end" font-size="31" fill="#000">500</text>
<path d="M125.3,750.1H135.3" stroke="#404040" stroke-width="1.6"/>
<text x="115.7" y="763.4" text-anchor="end" font-size="31" fill="#000">800</text>
<path d="M125.3,840.6H135.3" stroke="#404040" stroke-width="1.6"/>
<text x="115.7" y="853.9" text-anchor="end" font-size="31" fill="#000">1500</text>
<path d="M125.3,969.9H135.3" stroke="#404040" stroke-width="1.6"/>
<text x="115.7" y="983.2" text-anchor="end" font-size="31" fill="#000">2500</text>
<path d="M125.3,1163.8H135.3" stroke="#404040" stroke-width="1.6"/>
<text x="115.7" y="1177.1" text-anchor="end" font-size="31" fill="#000">4000</text>
<path d="M135.3,1163.8V1173.8" stroke="#404040" stroke-width="1.5"/>
<path d="M170.4,1163.8V1169.3" stroke="#404040" stroke-width="1.5"/>
<path d="M205.5,1163.8V1169.3" stroke="#404040" stroke-width="1.5"/>
<path d="M240.5,1163.8V1169.3" stroke="#404040" stroke-width="1.5"/>
<path d="M275.6,1163.8V1173.8" stroke="#404040" stroke-width="1.5"/>
<path d="M310.7,1163.8V1169.3" stroke="#404040" stroke-width="1.5"/>
<path d="M345.8,1163.8V1169.3" stroke="#404040" stroke-width="1.5"/>
<path d="M380.9,1163.8V1169.3" stroke="#404040" stroke-width="1.5"/>
<path d="M416.0,1163.8V1173.8" stroke="#404040" stroke-width="1.5"/>
<path d="M451.0,1163.8V1169.3" stroke="#404040" stroke-width="1.5"/>
<path d="M486.1,1163.8V1169.3" stroke="#404040" stroke-width="1.5"/>
<path d="M521.2,1163.8V1169.3" stroke="#404040" stroke-width="1.5"/>
<path d="M556.3,1163.8V1173.8" stroke="#404040" stroke-width="1.5"/>
<path d="M591.4,1163.8V1169.3" stroke="#404040" stroke-width="1.5"/>
<path d="M626.5,1163.8V1169.3" stroke="#404040" stroke-width="1.5"/>
<path d="M661.5,1163.8V1169.3" stroke="#404040" stroke-width="1.5"/>
<path d="M696.6,1163.8V1173.8" stroke="#404040" stroke-width="1.5"/>
<path d="M731.7,1163.8V1169.3" stroke="#404040" stroke-width="1.5"/>
<path d="M766.8,1163.8V1169.3" stroke="#404040" stroke-width="1.5"/>
<path d="M801.9,1163.8V1169.3" stroke="#404040" stroke-width="1.5"/>
<path d="M836.9,1163.8V1173.8" stroke="#404040" stroke-width="1.5"/>
<path d="M872.0,1163.8V1169.3" stroke="#404040" stroke-width="1.5"/>
<path d="M907.1,1163.8V1169.3" stroke="#404040" stroke-width="1.5"/>
<path d="M942.2,1163.8V1169.3" stroke="#404040" stroke-width="1.5"/>
<path d="M977.3,1163.8V1173.8" stroke="#404040" stroke-width="1.5"/>
<path d="M1012.4,1163.8V1169.3" stroke="#404040" stroke-width="1.5"/>
<path d="M1047.4,1163.8V1169.3" stroke="#404040" stroke-width="1.5"/>
<path d="M1082.5,1163.8V1169.3" stroke="#404040" stroke-width="1.5"/>
<path d="M1117.6,1163.8V1173.8" stroke="#404040" stroke-width="1.5"/>
<text x="118.3" y="1213.8" font-size="30.5" fill="#000">10<tspan fill="#555">N</tspan></text>
<text x="258.7" y="1213.8" font-size="30.5" fill="#000">12<tspan fill="#555">N</tspan></text>
<text x="399.0" y="1213.8" font-size="30.5" fill="#000">14<tspan fill="#555">N</tspan></text>
<text x="539.3" y="1213.8" font-size="30.5" fill="#000">16<tspan fill="#555">N</tspan></text>
<text x="679.7" y="1213.8" font-size="30.5" fill="#000">18<tspan fill="#555">N</tspan></text>
<text x="820.0" y="1213.8" font-size="30.5" fill="#000">20<tspan fill="#555">N</tspan></text>
<text x="960.3" y="1213.8" font-size="30.5" fill="#000">22<tspan fill="#555">N</tspan></text>
<text x="1100.6" y="1213.8" font-size="30.5" fill="#000">24<tspan fill="#555">N</tspan></text>
</g>
<g id="pd">
<clipPath id="clipd"><rect x="1378.0" y="644.3" width="981.6" height="519.3"/></clipPath>
<g clip-path="url(#clipd)">
<clipPath id="dd"><path d="M1379.0,645.4 L2199.2,645.4 L2199.2,685.2 L2187.9,685.2 L2187.9,719.1 L2181.1,719.1 L2181.1,766.5 L2167.6,766.5 L2167.6,804.9 L2133.7,804.9 L2133.7,829.8 L2117.9,829.8 L2115.6,775.6 L2113.3,739.4 L2111.1,775.6 L2108.8,852.4 L2102.0,852.4 L2099.8,924.7 L2084.0,924.7 L2084.0,1006.0 L2070.4,1006.0 L2070.4,1033.1 L2054.6,1033.1 L2054.6,1085.1 L2034.3,1085.1 L2034.3,1119.0 L2020.7,1119.0 L2020.7,1132.5 L2002.6,1132.5 L2002.6,1141.6 L1971.0,1150.6 L1957.4,1166.4 L1767.7,1166.4 L1767.7,926.9 L1717.9,926.9 L1717.9,1166.4 L1650.2,1166.4 L1650.2,1119.0 L1595.9,1119.0 L1595.9,1060.2 L1546.2,1060.2 L1546.2,1006.0 L1528.2,1006.0 L1528.2,951.8 L1512.3,951.8 L1512.3,902.1 L1487.5,902.1 L1478.5,852.4 L1460.4,852.4 L1460.4,784.6 L1410.7,784.6 L1410.7,730.4 L1390.3,730.4 L1390.3,667.1 L1376.8,667.1 Z"/></clipPath>
<filter id="bld" x="-5%" y="-5%" width="110%" height="110%"><feGaussianBlur stdDeviation="6"/></filter>
<g clip-path="url(#dd)"><g filter="url(#bld)">
<path d="M1347.4,617.4 L2228.6,617.4 L2228.6,1204.8 L1347.4,1204.8 Z" fill="#f2f7fd"/>
<path d="M1347.4,617.4 L2228.6,617.4 L2228.6,1204.8 L2072.7,1204.8 L2072.7,1024.1 L2070.4,987.9 L2056.9,951.8 L2043.3,956.3 L2020.7,969.9 L1984.6,1001.5 L1982.3,1091.9 L1980.0,1204.8 L1894.2,1204.8 L1894.2,1069.3 L1898.7,1024.1 L1907.7,983.4 L1912.3,956.3 L1898.7,938.2 L1889.7,897.6 L1885.1,863.7 L1853.5,865.9 L1835.4,893.1 L1817.4,929.2 L1799.3,920.2 L1767.7,933.7 L1749.6,906.6 L1722.5,902.1 L1699.9,886.3 L1672.8,924.7 L1650.2,911.1 L1641.1,852.4 L1614.0,838.8 L1600.5,884.0 L1577.9,879.5 L1550.8,852.4 L1528.2,847.9 L1505.6,811.7 L1489.7,780.1 L1469.4,780.1 L1455.9,795.9 L1347.4,795.9 Z" fill="#ebf3fb"/>
<path d="M1347.4,617.4 L2228.6,617.4 L2228.6,956.3 L2097.5,956.3 L2097.5,856.9 L2084.0,911.1 L2061.4,884.0 L2056.9,843.3 L2047.8,816.2 L2020.7,843.3 L1998.1,856.9 L1980.0,838.8 L1966.5,816.2 L1952.9,861.4 L1939.4,852.4 L1930.3,798.2 L1903.2,771.0 L1876.1,784.6 L1849.0,807.2 L1817.4,843.3 L1803.8,809.5 L1772.2,807.2 L1767.7,847.9 L1763.1,827.5 L1713.4,814.0 L1686.3,816.2 L1668.2,798.2 L1663.7,762.0 L1681.8,732.6 L1659.2,723.6 L1641.1,721.3 L1623.1,730.4 L1605.0,762.0 L1577.9,784.6 L1580.1,829.8 L1559.8,811.7 L1532.7,784.6 L1519.1,748.5 L1505.6,725.9 L1469.4,730.4 L1446.8,753.0 L1428.7,753.0 L1415.2,734.9 L1406.2,716.8 L1397.1,685.2 L1347.4,685.2 Z" fill="#e1ecf8"/>
<path d="M1347.4,617.4 L2228.6,617.4 L2228.6,685.2 L2199.2,685.2 L2187.9,689.7 L2183.4,743.9 L2165.3,771.0 L2138.2,793.6 L2111.1,814.0 L2093.0,802.7 L2084.0,775.6 L2072.7,730.4 L2074.9,694.2 L2088.5,664.9 L2079.4,662.6 L2034.3,667.1 L2016.2,680.7 L2002.6,676.2 L1957.4,671.6 L1889.7,667.1 L1867.1,680.7 L1849.0,707.8 L1821.9,676.2 L1776.7,664.9 L1731.5,660.3 L1686.3,655.8 L1641.1,653.6 L1582.4,662.6 L1541.7,673.9 L1505.6,682.9 L1460.4,696.5 L1415.2,680.7 L1379.0,667.1 L1347.4,667.1 Z" fill="#bcd7ec"/>
<path d="M1347.4,617.4 L2228.6,617.4 L2228.6,667.1 L2192.4,669.4 L2138.2,667.1 L2093.0,660.3 L2047.8,649.9 L2002.6,651.3 L1867.1,649.9 L1821.9,652.7 L1731.5,654.5 L1686.3,652.2 L1641.1,649.0 L1460.4,648.1 L1347.4,648.1 Z" fill="#5d9fd0"/>
<path d="M1374.5,645.4 L1487.5,645.4 L1478.5,660.3 L1451.3,671.6 L1415.2,676.2 L1374.5,671.6 Z" fill="#8dbde0"/>
<path d="M1379.0,653.6 L1415.2,655.8 L1451.3,662.6 L1415.2,667.1 L1379.0,662.6 Z" fill="#5d9fd0"/>
<path d="M2106.6,689.7 L2133.7,703.3 L2142.7,721.3 L2138.2,766.5 L2115.6,780.1 L2099.8,730.4 Z" fill="#5d9fd0"/>
<path d="M2115.6,707.8 L2131.4,716.8 L2133.7,753.0 L2117.9,762.0 L2111.1,730.4 Z" fill="#3f86c2"/>
<path d="M2138.2,645.4 L2199.2,645.4 L2199.2,667.1 L2165.3,671.6 L2138.2,658.1 Z" fill="#3f86c2"/>
<path d="M2120.1,645.4 L2196.9,645.4 L2196.9,671.6 L2160.8,671.6 L2133.7,662.6 Z" fill="#2a6db0"/>
<path d="M2147.2,645.4 L2192.4,645.4 L2187.9,658.1 L2160.8,658.1 Z" fill="#0d3f80"/>
<path d="M1347.4,617.4 L2228.6,617.4 L2228.6,646.8 L1347.4,646.8 Z" fill="#2a6db0"/>
</g>
<path d="M1379.0,667.1 L1415.2,680.7 L1460.4,696.5 L1505.6,682.9 L1541.7,673.9 L1582.4,662.6 L1641.1,653.6 L1686.3,655.8 L1731.5,660.3 L1776.7,664.9 L1821.9,676.2 L1849.0,707.8 L1867.1,680.7 L1889.7,667.1 L1957.4,671.6 L2002.6,676.2 L2016.2,680.7 L2034.3,667.1 L2079.4,662.6 L2088.5,664.9 L2074.9,694.2 L2072.7,730.4 L2084.0,775.6 L2093.0,802.7 L2111.1,814.0 L2138.2,793.6 L2165.3,771.0 L2183.4,743.9 L2187.9,689.7 L2199.2,685.2" fill="none" stroke="#222" stroke-width="1.15" stroke-linejoin="round"/>
<path d="M1379.0,655.8 L1415.2,664.9 L1446.8,662.6 L1415.2,655.8" fill="none" stroke="#222" stroke-width="1.15" stroke-linejoin="round"/>
<path d="M1641.1,648.1 L1686.3,651.3 L1731.5,653.6 L1821.9,651.3 L1867.1,649.0 L2002.6,651.3 L2047.8,649.0" fill="none" stroke="#222" stroke-width="1.15" stroke-linejoin="round"/>
<path d="M2111.1,730.4 L2129.2,712.3 L2138.2,721.3 L2133.7,762.0 L2115.6,771.0" fill="none" stroke="#222" stroke-width="1.15" stroke-linejoin="round"/>
<path d="M1912.3,646.8 L2002.6,648.1" fill="none" stroke="#222" stroke-width="1.15" stroke-linejoin="round"/>
<path d="M1397.1,685.2 L1406.2,716.8 L1415.2,734.9 L1428.7,753.0 L1446.8,753.0 L1469.4,730.4 L1505.6,725.9 L1519.1,748.5 L1532.7,784.6 L1559.8,811.7 L1580.1,829.8 L1577.9,784.6 L1605.0,762.0 L1623.1,730.4 L1641.1,721.3 L1659.2,723.6 L1681.8,732.6 L1663.7,762.0 L1668.2,798.2 L1686.3,816.2 L1713.4,814.0 L1763.1,827.5 L1767.7,847.9 L1772.2,807.2 L1803.8,809.5 L1817.4,843.3 L1849.0,807.2 L1876.1,784.6 L1903.2,771.0 L1930.3,798.2 L1939.4,852.4 L1952.9,861.4 L1966.5,816.2 L1980.0,838.8 L1998.1,856.9 L2020.7,843.3 L2047.8,816.2 L2056.9,843.3 L2061.4,884.0 L2084.0,911.1 L2097.5,856.9" fill="none" stroke="#222" stroke-width="1.15" stroke-linejoin="round"/>
<path d="M1455.9,795.9 L1469.4,780.1 L1489.7,780.1 L1505.6,811.7 L1528.2,847.9 L1550.8,852.4 L1577.9,879.5 L1600.5,884.0 L1614.0,838.8 L1641.1,852.4 L1650.2,911.1 L1672.8,924.7 L1699.9,886.3 L1722.5,902.1 L1749.6,906.6 L1767.7,933.7 L1799.3,920.2 L1817.4,929.2 L1835.4,893.1 L1853.5,865.9 L1885.1,863.7 L1889.7,897.6 L1898.7,938.2 L1912.3,956.3 L1907.7,983.4 L1898.7,1024.1 L1894.2,1069.3 L1894.2,1141.6" fill="none" stroke="#222" stroke-width="1.15" stroke-linejoin="round"/>
<path d="M1980.0,1141.6 L1982.3,1091.9 L1984.6,1001.5 L2020.7,969.9 L2043.3,956.3 L2056.9,951.8 L2070.4,987.9 L2072.7,1024.1" fill="none" stroke="#222" stroke-width="1.15" stroke-linejoin="round"/>
<path d="M1611.8,698.7 L1641.1,696.5 L1636.6,712.3 L1623.1,716.8 L1611.8,707.8" fill="none" stroke="#222" stroke-width="1.15" stroke-linejoin="round"/>
<path d="M1727.0,671.6 L1736.0,669.4 L1749.6,685.2 L1745.1,703.3 L1731.5,698.7 L1724.7,685.2" fill="none" stroke="#222" stroke-width="1.15" stroke-linejoin="round"/>
</g>
<path d="M1377.2,670.4 L1377.8,670.4 L1380.7,667.2 L1383.9,676.8 L1387.1,718.5 L1390.4,766.7 L1393.6,789.1 L1396.8,795.6 L1401.6,792.3 L1408.0,805.2 L1412.8,818.0 L1417.6,827.6 L1422.4,837.3 L1425.7,843.7 L1430.5,837.3 L1433.7,853.3 L1438.5,859.7 L1443.3,853.3 L1448.1,859.7 L1452.9,856.5 L1457.7,859.7 L1462.6,853.3 L1469.0,859.7 L1478.6,856.5 L1485.0,862.9 L1489.8,882.2 L1493.0,875.8 L1496.3,895.0 L1499.5,901.5 L1501.1,917.5 L1504.3,936.8 L1507.5,959.2 L1510.7,978.5 L1513.9,997.7 L1517.1,1017.0 L1521.9,1023.4 L1526.7,1036.2 L1533.2,1049.1 L1539.6,1055.5 L1542.8,1061.9 L1552.4,1068.3 L1558.8,1081.2 L1565.3,1094.0 L1568.5,1103.6 L1574.9,1081.2 L1581.3,1058.7 L1584.5,1071.5 L1587.7,1094.0 L1594.1,1110.1 L1603.8,1119.7 L1613.4,1126.1 L1619.8,1138.9 L1626.2,1145.4 L1629.4,1164.6 L1377.2,1162.5 Z" fill="#e7e7e7" stroke="#111" stroke-width="1.1" stroke-linejoin="round"/>
<path d="M1693.6,1164.6 L1696.8,1138.9 L1700.0,1119.7 L1703.3,1138.9 L1706.5,1164.6 Z" fill="#e7e7e7" stroke="#111" stroke-width="1.0" stroke-linejoin="round"/>
<path d="M1733.3,1164.6 L1736.5,1055.5 L1739.7,984.9 L1742.9,1055.5 L1747.7,1138.9 L1755.8,1164.6 Z" fill="#e7e7e7" stroke="#111" stroke-width="1.0" stroke-linejoin="round"/>
<path d="M1791.1,1164.6 L1797.5,1151.8 L1800.7,1148.6 L1803.9,1138.9 L1813.5,1132.5 L1823.2,1151.8 L1829.6,1094.0 L1832.8,1119.7 L1837.6,1097.2 L1842.4,1151.8 L1855.3,1148.6 L1861.7,1155.0 L1871.3,1158.2 L1887.3,1148.6 L1893.8,1145.4 L1906.6,1155.0 L1919.4,1151.8 L1929.1,1158.2 L1938.7,1155.0 L1951.5,1158.2 L1958.0,1138.9 L1970.8,1145.4 L1983.6,1138.9 L2002.9,1132.5 L1966.8,1135.7 L1973.2,1138.9 L1981.2,1142.2 L1987.6,1148.6 L1994.0,1138.9 L2003.7,1132.5 L2010.1,1126.1 L2022.9,1113.3 L2035.8,1103.6 L2045.4,1094.0 L2047.0,1071.5 L2048.6,1039.5 L2051.8,1013.8 L2055.0,1042.7 L2059.8,1068.3 L2064.7,1055.5 L2071.1,1045.9 L2077.5,1039.5 L2083.9,1023.4 L2090.3,1004.2 L2093.5,988.1 L2100.0,980.1 L2108.0,975.3 L2109.6,943.2 L2111.2,862.9 L2112.8,782.7 L2114.4,737.8 L2116.0,782.7 L2119.2,818.0 L2122.4,843.7 L2124.0,866.2 L2128.8,875.8 L2133.6,882.2 L2136.9,869.4 L2141.7,875.8 L2144.9,888.6 L2149.7,882.2 L2154.5,856.5 L2159.3,834.1 L2164.1,862.9 L2167.3,888.6 L2170.6,904.7 L2173.8,895.0 L2180.2,882.2 L2183.4,862.9 L2186.6,830.9 L2189.8,824.4 L2193.0,818.0 L2199.4,805.2 L2204.3,773.1 L2209.1,734.6 L2215.5,692.9 L2221.9,660.8 L2233.1,647.3 L2238.0,647.9 L2241.2,664.0 L2244.4,647.9 L2361.5,647.9 L2361.5,1164.6 L1791.1,1164.6 Z" fill="#e7e7e7" stroke="#111" stroke-width="1.1" stroke-linejoin="round"/>
</g>
<path d="M1378.0,644.8V1163.6H2359.6" fill="none" stroke="#404040" stroke-width="1.6"/>
<path d="M1368.0,646.3H1378.0" stroke="#404040" stroke-width="1.6"/>
<text x="1358.4" y="659.6" text-anchor="end" font-size="31" fill="#000">10</text>
<path d="M1368.0,670.9H1378.0" stroke="#404040" stroke-width="1.6"/>
<text x="1358.4" y="684.2" text-anchor="end" font-size="31" fill="#000">200</text>
<path d="M1368.0,709.8H1378.0" stroke="#404040" stroke-width="1.6"/>
<text x="1358.4" y="723.1" text-anchor="end" font-size="31" fill="#000">500</text>
<path d="M1368.0,748.7H1378.0" stroke="#404040" stroke-width="1.6"/>
<text x="1358.4" y="762.0" text-anchor="end" font-size="31" fill="#000">800</text>
<path d="M1368.0,839.5H1378.0" stroke="#404040" stroke-width="1.6"/>
<text x="1358.4" y="852.8" text-anchor="end" font-size="31" fill="#000">1500</text>
<path d="M1368.0,969.1H1378.0" stroke="#404040" stroke-width="1.6"/>
<text x="1358.4" y="982.4" text-anchor="end" font-size="31" fill="#000">2500</text>
<path d="M1368.0,1163.6H1378.0" stroke="#404040" stroke-width="1.6"/>
<text x="1358.4" y="1176.9" text-anchor="end" font-size="31" fill="#000">4000</text>
<path d="M1378.0,1163.6V1173.6" stroke="#404040" stroke-width="1.5"/>
<path d="M1413.1,1163.6V1169.1" stroke="#404040" stroke-width="1.5"/>
<path d="M1448.1,1163.6V1169.1" stroke="#404040" stroke-width="1.5"/>
<path d="M1483.2,1163.6V1169.1" stroke="#404040" stroke-width="1.5"/>
<path d="M1518.2,1163.6V1173.6" stroke="#404040" stroke-width="1.5"/>
<path d="M1553.3,1163.6V1169.1" stroke="#404040" stroke-width="1.5"/>
<path d="M1588.3,1163.6V1169.1" stroke="#404040" stroke-width="1.5"/>
<path d="M1623.4,1163.6V1169.1" stroke="#404040" stroke-width="1.5"/>
<path d="M1658.5,1163.6V1173.6" stroke="#404040" stroke-width="1.5"/>
<path d="M1693.5,1163.6V1169.1" stroke="#404040" stroke-width="1.5"/>
<path d="M1728.6,1163.6V1169.1" stroke="#404040" stroke-width="1.5"/>
<path d="M1763.6,1163.6V1169.1" stroke="#404040" stroke-width="1.5"/>
<path d="M1798.7,1163.6V1173.6" stroke="#404040" stroke-width="1.5"/>
<path d="M1833.7,1163.6V1169.1" stroke="#404040" stroke-width="1.5"/>
<path d="M1868.8,1163.6V1169.1" stroke="#404040" stroke-width="1.5"/>
<path d="M1903.9,1163.6V1169.1" stroke="#404040" stroke-width="1.5"/>
<path d="M1938.9,1163.6V1173.6" stroke="#404040" stroke-width="1.5"/>
<path d="M1974.0,1163.6V1169.1" stroke="#404040" stroke-width="1.5"/>
<path d="M2009.0,1163.6V1169.1" stroke="#404040" stroke-width="1.5"/>
<path d="M2044.1,1163.6V1169.1" stroke="#404040" stroke-width="1.5"/>
<path d="M2079.1,1163.6V1173.6" stroke="#404040" stroke-width="1.5"/>
<path d="M2114.2,1163.6V1169.1" stroke="#404040" stroke-width="1.5"/>
<path d="M2149.3,1163.6V1169.1" stroke="#404040" stroke-width="1.5"/>
<path d="M2184.3,1163.6V1169.1" stroke="#404040" stroke-width="1.5"/>
<path d="M2219.4,1163.6V1173.6" stroke="#404040" stroke-width="1.5"/>
<path d="M2254.4,1163.6V1169.1" stroke="#404040" stroke-width="1.5"/>
<path d="M2289.5,1163.6V1169.1" stroke="#404040" stroke-width="1.5"/>
<path d="M2324.5,1163.6V1169.1" stroke="#404040" stroke-width="1.5"/>
<path d="M2359.6,1163.6V1173.6" stroke="#404040" stroke-width="1.5"/>
<text x="1361.0" y="1213.6" font-size="30.5" fill="#000">10<tspan fill="#555">N</tspan></text>
<text x="1501.3" y="1213.6" font-size="30.5" fill="#000">12<tspan fill="#555">N</tspan></text>
<text x="1641.5" y="1213.6" font-size="30.5" fill="#000">14<tspan fill="#555">N</tspan></text>
<text x="1781.7" y="1213.6" font-size="30.5" fill="#000">16<tspan fill="#555">N</tspan></text>
<text x="1922.0" y="1213.6" font-size="30.5" fill="#000">18<tspan fill="#555">N</tspan></text>
<text x="2062.2" y="1213.6" font-size="30.5" fill="#000">20<tspan fill="#555">N</tspan></text>
<text x="2202.4" y="1213.6" font-size="30.5" fill="#000">22<tspan fill="#555">N</tspan></text>
<text x="2342.6" y="1213.6" font-size="30.5" fill="#000">24<tspan fill="#555">N</tspan></text>
</g>
<g id="pe">
<clipPath id="clipe"><rect x="133.5" y="1240.9" width="982.7" height="518.1"/></clipPath>
<g clip-path="url(#clipe)">
<clipPath id="de"><path d="M133.6,1240.4 L1117.3,1240.4 L1117.3,1244.0 L1013.0,1255.3 L990.4,1277.9 L976.8,1289.2 L958.7,1307.3 L949.7,1307.3 L949.7,1345.7 L936.1,1345.7 L931.6,1370.6 L929.4,1388.6 L922.6,1393.2 L920.3,1424.8 L909.0,1424.8 L909.0,1499.8 L895.5,1499.8 L895.5,1601.0 L868.4,1601.0 L868.4,1628.1 L854.8,1628.1 L854.8,1655.2 L836.7,1655.2 L836.7,1630.4 L826.8,1596.5 L816.4,1571.6 L798.3,1569.4 L798.3,1499.8 L784.8,1499.8 L784.8,1280.2 L764.4,1280.2 L764.4,1241.8 L735.1,1241.8 L735.1,1343.5 L714.7,1343.5 L714.7,1682.4 L673.2,1682.4 L673.2,1760.1 L533.1,1760.1 L533.1,1686.9 L518.6,1686.9 L518.6,1621.4 L503.7,1621.4 L503.7,1447.4 L283.6,1447.4 L283.6,1327.6 L261.0,1327.6 L261.0,1472.2 L218.1,1472.2 L218.1,1548.1 L204.6,1548.1 L204.6,1472.2 L189.6,1472.2 L189.6,1415.8 L176.1,1415.8 L176.1,1336.7 L161.6,1336.7 L161.6,1262.1 L133.6,1262.1 Z"/></clipPath>
<g clip-path="url(#de)">
<path d="M133.6,1240.4 L1117.3,1240.4 L1117.3,1244.0 L1013.0,1255.3 L990.4,1277.9 L976.8,1289.2 L958.7,1307.3 L949.7,1307.3 L949.7,1345.7 L936.1,1345.7 L931.6,1370.6 L929.4,1388.6 L922.6,1393.2 L920.3,1424.8 L909.0,1424.8 L909.0,1499.8 L895.5,1499.8 L895.5,1601.0 L868.4,1601.0 L868.4,1628.1 L854.8,1628.1 L854.8,1655.2 L836.7,1655.2 L836.7,1630.4 L826.8,1596.5 L816.4,1571.6 L798.3,1569.4 L798.3,1499.8 L784.8,1499.8 L784.8,1280.2 L764.4,1280.2 L764.4,1241.8 L735.1,1241.8 L735.1,1343.5 L714.7,1343.5 L714.7,1682.4 L673.2,1682.4 L673.2,1760.1 L533.1,1760.1 L533.1,1686.9 L518.6,1686.9 L518.6,1621.4 L503.7,1621.4 L503.7,1447.4 L283.6,1447.4 L283.6,1327.6 L261.0,1327.6 L261.0,1472.2 L218.1,1472.2 L218.1,1548.1 L204.6,1548.1 L204.6,1472.2 L189.6,1472.2 L189.6,1415.8 L176.1,1415.8 L176.1,1336.7 L161.6,1336.7 L161.6,1262.1 L133.6,1262.1 Z" fill="#fff4e8"/>
<path d="M161.6,1262.1 L288.2,1259.9 L292.7,1329.9 L265.6,1334.4 L220.4,1329.9 L161.6,1334.4 Z" fill="#fff4e8"/>
<path d="M197.8,1266.6 L270.1,1266.6 L267.8,1280.2 L231.7,1282.4 L200.0,1277.9 Z" fill="#e0ecf8"/>
<path d="M224.9,1268.9 L256.5,1268.9 L254.3,1275.7 L229.4,1275.7 Z" fill="#d2ebe6"/>
<path d="M161.6,1296.0 L188.7,1296.0 L195.5,1307.3 L186.5,1316.3 L161.6,1314.1 Z" fill="#e0ecf8"/>
<path d="M161.6,1300.5 L179.7,1300.5 L182.0,1309.6 L161.6,1309.6 Z" fill="#d2ebe6"/>
<path d="M175.2,1314.1 L224.9,1302.8 L256.5,1289.2 L283.6,1302.8 L283.6,1338.9 L270.1,1370.6 L231.7,1370.6 L182.0,1361.5 L175.2,1341.2 Z" fill="#fde3b4"/>
<path d="M182.0,1341.2 L209.1,1320.9 L243.0,1302.8 L256.5,1293.7 L276.9,1309.6 L279.1,1329.9 L265.6,1361.5 L231.7,1363.8 L197.8,1352.5 Z" fill="#ee7f00" stroke="#1a1a1a" stroke-width="1.1" stroke-linejoin="round"/>
<path d="M193.3,1341.2 L215.9,1329.9 L247.5,1316.3 L265.6,1325.4 L261.0,1352.5 L231.7,1357.0 L204.6,1350.2 Z" fill="#c8641e"/>
<path d="M256.5,1311.8 L265.6,1309.6 L267.8,1318.6 L258.8,1320.9 Z" fill="#eb0000"/>
<path d="M161.6,1262.1 L186.5,1262.1 L184.2,1271.2 L161.6,1271.2 Z" fill="#ee7f00"/>
<path d="M256.5,1264.4 L355.9,1259.9 L378.5,1266.6 L457.6,1262.1 L464.4,1275.7 L453.1,1325.4 L423.7,1343.5 L401.1,1361.5 L389.8,1406.7 L378.5,1393.2 L367.2,1361.5 L351.4,1370.6 L328.8,1361.5 L306.2,1361.5 L288.2,1343.5 L274.6,1309.6 L265.6,1289.2 Z" fill="#ee7f00" stroke="#1a1a1a" stroke-width="1.1" stroke-linejoin="round"/>
<path d="M265.6,1266.6 L355.9,1262.1 L378.5,1271.2 L450.8,1268.9 L450.8,1320.9 L421.5,1336.7 L401.1,1348.0 L392.1,1393.2 L383.1,1381.9 L369.5,1348.0 L346.9,1343.5 L324.3,1352.5 L306.2,1343.5 L294.9,1320.9 L279.1,1293.7 Z" fill="#dd3311"/>
<path d="M288.2,1271.2 L355.9,1266.6 L389.8,1275.7 L446.3,1273.4 L446.3,1316.3 L423.7,1329.9 L401.1,1338.9 L389.8,1361.5 L378.5,1343.5 L351.4,1329.9 L328.8,1338.9 L310.8,1329.9 L301.7,1302.8 Z" fill="#eb0000"/>
<path d="M310.8,1291.5 L333.3,1296.0 L346.9,1314.1 L337.9,1329.9 L317.5,1320.9 Z" fill="#c80000" stroke="#1a1a1a" stroke-width="1.1" stroke-linejoin="round"/>
<path d="M378.5,1275.7 L396.6,1280.2 L398.9,1311.8 L385.3,1316.3 Z" fill="#c80000"/>
<path d="M410.2,1291.5 L430.5,1293.7 L446.3,1311.8 L423.7,1316.3 Z" fill="#c80000"/>
<path d="M310.8,1350.2 L328.8,1352.5 L324.3,1363.8 L310.8,1361.5 Z" fill="#c80000"/>
<path d="M133.4,1242.9 L630.0,1242.9 L630.0,1247.4 L491.5,1256.5 L446.3,1262.1 L355.9,1259.9 L288.2,1262.1 L220.4,1261.0 L161.6,1262.1 L133.4,1251.9 Z" fill="#eb0000"/>
<path d="M133.4,1244.0 L288.2,1245.2 L378.5,1250.8 L468.9,1255.3 L468.9,1259.9 L355.9,1256.5 L265.6,1251.9 L133.4,1248.6 Z" fill="#c80000" stroke="#1a1a1a" stroke-width="1.1" stroke-linejoin="round"/>
<path d="M389.8,1246.3 L423.7,1246.3 L419.2,1257.6 L392.1,1256.5 Z" fill="#f0fdfd"/>
<path d="M491.5,1244.0 L630.0,1244.0 L630.0,1248.6 L536.7,1255.3 L491.5,1257.6 Z" fill="#f0a464"/>
<path d="M468.9,1257.6 L514.1,1255.3 L514.1,1264.4 L468.9,1264.4 Z" fill="#fde3b4"/>
<path d="M175.2,1415.8 L193.3,1393.2 L220.4,1379.6 L243.0,1388.6 L256.5,1415.8 L256.5,1474.5 L189.9,1474.5 L177.4,1438.3 Z" fill="#e0ecf8"/>
<path d="M188.7,1420.3 L204.6,1402.2 L227.2,1395.4 L247.5,1406.7 L249.7,1474.5 L189.9,1474.5 Z" fill="#a8d4e2"/>
<path d="M191.0,1433.8 L211.3,1413.5 L233.9,1409.0 L247.5,1420.3 L247.5,1474.5 L189.9,1474.5 Z" fill="#4875f8"/>
<path d="M189.9,1451.9 L220.4,1445.1 L247.5,1447.4 L247.5,1474.5 L189.9,1474.5 Z" fill="#1a73cc"/>
<path d="M204.6,1470.0 L220.4,1470.0 L220.4,1500.0 L204.6,1500.0 Z" fill="#134e8e"/>
<path d="M175.2,1388.6 L186.5,1393.2 L184.2,1411.2 L175.2,1413.5 Z" fill="#ee7f00"/>
<path d="M306.2,1370.6 L333.3,1361.5 L346.9,1381.9 L342.4,1420.3 L324.3,1427.0 L306.2,1406.7 Z" fill="#e0ecf8"/>
<path d="M310.8,1379.6 L328.8,1375.1 L337.9,1393.2 L328.8,1409.0 L315.3,1406.7 Z" fill="#a8d4e2"/>
<path d="M315.3,1393.2 L328.8,1393.2 L326.6,1406.7 L317.5,1406.7 Z" fill="#4875f8"/>
<path d="M401.1,1361.5 L450.8,1361.5 L491.5,1370.6 L496.0,1438.3 L482.5,1460.9 L446.3,1460.9 L401.1,1438.3 L389.8,1406.7 Z" fill="#e0ecf8"/>
<path d="M414.7,1370.6 L446.3,1368.3 L482.5,1375.1 L482.5,1393.2 L450.8,1393.2 L419.2,1388.6 Z" fill="#a8d4e2"/>
<path d="M450.8,1370.6 L477.9,1375.1 L477.9,1384.1 L455.4,1384.1 Z" fill="#4875f8"/>
<path d="M450.8,1298.3 L473.4,1296.0 L475.7,1338.9 L455.4,1338.9 Z" fill="#e0ecf8"/>
<path d="M457.6,1307.3 L468.9,1309.6 L466.6,1329.9 L459.9,1329.9 Z" fill="#a8d4e2"/>
<path d="M473.4,1271.2 L514.1,1271.2 L514.1,1284.7 L473.4,1284.7 Z" fill="#ee7f00"/>
<path d="M477.9,1273.4 L496.0,1274.5 L491.5,1281.3 Z" fill="#dd3311"/>
<path d="M482.5,1307.3 L514.1,1307.3 L536.7,1329.9 L536.7,1352.5 L514.1,1352.5 L491.5,1338.9 Z" fill="#ee7f00" stroke="#1a1a1a" stroke-width="1.1" stroke-linejoin="round"/>
<path d="M491.5,1314.1 L509.6,1318.6 L518.6,1336.7 L505.1,1341.2 Z" fill="#eb0000"/>
<path d="M514.1,1291.5 L536.7,1268.9 L559.3,1264.4 L586.4,1280.2 L586.4,1314.1 L559.3,1345.7 L536.7,1325.4 Z" fill="#e0ecf8"/>
<path d="M536.7,1268.9 L559.3,1266.6 L577.4,1280.2 L572.8,1311.8 L554.8,1311.8 L541.2,1293.7 Z" fill="#a8d4e2"/>
<path d="M554.8,1320.9 L581.9,1316.3 L609.0,1329.9 L618.0,1361.5 L604.5,1415.8 L581.9,1447.4 L563.8,1438.3 L554.8,1393.2 L559.3,1348.0 Z" fill="#ee7f00" stroke="#1a1a1a" stroke-width="1.1" stroke-linejoin="round"/>
<path d="M563.8,1348.0 L581.9,1343.5 L595.4,1370.6 L590.9,1406.7 L577.4,1422.5 L566.1,1393.2 Z" fill="#dd3311"/>
<path d="M568.3,1357.0 L584.1,1357.0 L588.7,1379.6 L579.6,1406.7 L570.6,1393.2 Z" fill="#eb0000"/>
<path d="M595.4,1257.6 L630.0,1255.3 L630.0,1302.8 L604.5,1302.8 Z" fill="#e0ecf8"/>
<path d="M500.5,1361.5 L554.8,1361.5 L559.3,1438.3 L527.7,1449.6 L500.5,1438.3 Z" fill="#f0fdfd"/>
<path d="M511.8,1393.2 L527.7,1393.2 L527.7,1424.8 L514.1,1424.8 Z" fill="#a8d4e2"/>
<path d="M500.5,1447.4 L559.3,1447.4 L559.3,1500.0 L500.5,1500.0 Z" fill="#ee7f00"/>
<path d="M523.1,1460.9 L541.2,1460.9 L541.2,1500.0 L523.1,1500.0 Z" fill="#eb0000"/>
<path d="M593.2,1472.2 L630.0,1460.9 L630.0,1500.0 L593.2,1500.0 Z" fill="#e0ecf8"/>
<path d="M620.0,1241.8 L678.7,1241.8 L681.0,1325.4 L678.7,1438.3 L669.7,1500.0 L620.0,1500.0 Z" fill="#f0fdfd"/>
<path d="M620.0,1257.6 L642.6,1259.9 L649.4,1280.2 L647.1,1311.8 L633.6,1309.6 L620.0,1298.3 Z" fill="#e0ecf8"/>
<path d="M620.0,1264.4 L638.1,1266.6 L642.6,1284.7 L638.1,1302.8 L620.0,1293.7 Z" fill="#a8d4e2"/>
<path d="M620.0,1309.6 L633.6,1309.6 L633.6,1329.9 L620.0,1329.9 Z" fill="#ee7f00"/>
<path d="M620.0,1370.6 L647.1,1393.2 L665.2,1415.8 L665.2,1460.9 L620.0,1500.0 Z" fill="#e0ecf8"/>
<path d="M714.9,1241.8 L735.2,1241.8 L735.2,1343.5 L714.9,1343.5 Z" fill="#f0a464"/>
<path d="M687.8,1275.7 L714.9,1287.0 L728.5,1309.6 L728.5,1343.5 L714.9,1361.5 L714.9,1438.3 L694.6,1438.3 L681.0,1415.8 L678.7,1370.6 L681.0,1325.4 Z" fill="#ee7f00" stroke="#1a1a1a" stroke-width="1.1" stroke-linejoin="round"/>
<path d="M696.8,1298.3 L714.9,1302.8 L728.5,1325.4 L714.9,1361.5 L714.9,1406.7 L701.3,1415.8 L687.8,1393.2 L690.0,1336.7 Z" fill="#c8641e"/>
<path d="M703.6,1314.1 L728.5,1320.9 L728.5,1343.5 L714.9,1361.5 L708.1,1348.0 Z" fill="#eb0000"/>
<path d="M683.3,1390.9 L705.9,1393.2 L705.9,1424.8 L685.5,1424.8 Z" fill="#eb0000"/>
<path d="M653.9,1460.9 L676.5,1460.9 L674.2,1500.0 L653.9,1500.0 Z" fill="#ee7f00"/>
<path d="M656.2,1465.5 L662.9,1465.5 L662.9,1494.8 L656.2,1494.8 Z" fill="#eb0000"/>
<path d="M665.2,1438.3 L714.9,1438.3 L714.9,1500.0 L669.7,1500.0 Z" fill="#a8d4e2"/>
<path d="M703.6,1438.3 L714.9,1438.3 L714.9,1500.0 L705.9,1500.0 Z" fill="#4875f8"/>
<path d="M764.6,1241.8 L845.9,1241.8 L845.9,1253.1 L764.6,1255.3 Z" fill="#ee7f00"/>
<path d="M778.2,1246.3 L800.8,1246.3 L796.2,1253.1 L778.2,1251.9 Z" fill="#eb0000"/>
<path d="M784.9,1273.4 L913.7,1268.9 L913.7,1500.0 L784.9,1500.0 Z" fill="#fde3b4"/>
<path d="M791.7,1280.2 L823.3,1280.2 L827.9,1325.4 L791.7,1329.9 Z" fill="#f0a464"/>
<path d="M830.1,1257.6 L884.3,1257.6 L884.3,1336.7 L845.9,1302.8 L832.4,1284.7 Z" fill="#fff4e8"/>
<path d="M789.5,1329.9 L798.5,1325.4 L823.3,1352.5 L841.4,1348.0 L868.5,1370.6 L891.1,1348.0 L897.9,1370.6 L879.8,1393.2 L868.5,1402.2 L827.9,1381.9 L818.8,1393.2 L812.0,1438.3 L791.7,1438.3 L787.2,1393.2 Z" fill="#ee7f00" stroke="#1a1a1a" stroke-width="1.1" stroke-linejoin="round"/>
<path d="M791.7,1348.0 L809.8,1343.5 L823.3,1361.5 L841.4,1361.5 L868.5,1379.6 L886.6,1361.5 L886.6,1379.6 L868.5,1393.2 L827.9,1375.1 L814.3,1393.2 L805.3,1429.3 L794.0,1429.3 Z" fill="#c8641e"/>
<path d="M798.5,1350.2 L809.8,1352.5 L821.1,1381.9 L816.6,1404.5 L800.8,1438.3 L796.2,1393.2 Z" fill="#eb0000"/>
<path d="M818.8,1397.7 L845.9,1397.7 L845.9,1438.3 L823.3,1438.3 Z" fill="#e0ecf8"/>
<path d="M877.6,1427.0 L891.1,1427.0 L891.1,1483.5 L877.6,1483.5 Z" fill="#e0ecf8"/>
<path d="M868.5,1241.8 L913.7,1241.8 L913.7,1348.0 L891.1,1348.0 L879.8,1302.8 Z" fill="#ee7f00" stroke="#1a1a1a" stroke-width="1.1" stroke-linejoin="round"/>
<path d="M879.8,1241.8 L909.2,1241.8 L904.7,1336.7 L891.1,1336.7 L884.3,1302.8 Z" fill="#dd3311"/>
<path d="M886.6,1241.8 L904.7,1241.8 L900.2,1334.4 L893.4,1334.4 Z" fill="#eb0000"/>
<path d="M891.1,1248.6 L900.2,1248.6 L897.9,1325.4 L894.5,1325.4 Z" fill="#c80000"/>
<path d="M913.7,1241.8 L1017.7,1241.8 L1008.6,1302.8 L958.9,1309.6 L949.9,1348.0 L913.7,1348.0 Z" fill="#e0ecf8"/>
<path d="M931.8,1244.0 L1013.1,1244.0 L1008.6,1291.5 L972.5,1307.3 L949.9,1302.8 L936.3,1268.9 Z" fill="#a8d4e2"/>
<path d="M940.8,1246.3 L1004.1,1246.3 L1004.1,1268.9 L981.5,1280.2 L972.5,1302.8 L958.9,1305.0 L949.9,1280.2 L945.4,1257.6 Z" fill="#4875f8"/>
<path d="M958.9,1248.6 L990.5,1248.6 L981.5,1280.2 L963.4,1280.2 Z" fill="#1a73cc"/>
<path d="M204.6,1495.0 L218.1,1495.0 L218.1,1548.1 L204.6,1548.1 Z" fill="#4875f8"/>
<path d="M209.1,1495.0 L218.1,1495.0 L218.1,1540.2 L211.3,1540.2 Z" fill="#1a73cc"/>
<path d="M503.9,1495.0 L570.6,1495.0 L570.6,1540.2 L559.3,1585.4 L548.0,1612.5 L536.7,1653.2 L532.2,1687.0 L518.6,1687.0 L518.6,1621.5 L503.9,1621.5 Z" fill="#ee7f00" stroke="#1a1a1a" stroke-width="1.1" stroke-linejoin="round"/>
<path d="M527.7,1508.6 L568.3,1508.6 L566.1,1562.8 L548.0,1569.6 L534.4,1551.5 Z" fill="#c8641e"/>
<path d="M536.7,1517.6 L566.1,1517.6 L563.8,1560.5 L545.7,1562.8 Z" fill="#eb0000"/>
<path d="M503.9,1495.0 L514.1,1495.0 L514.1,1621.5 L503.9,1621.5 Z" fill="#eb0000"/>
<path d="M570.6,1495.0 L630.0,1495.0 L630.0,1589.9 L604.5,1567.3 L577.4,1589.9 L572.8,1540.2 Z" fill="#e0ecf8"/>
<path d="M593.2,1495.0 L627.1,1495.0 L622.5,1535.7 L604.5,1535.7 Z" fill="#a8d4e2"/>
<path d="M533.3,1589.9 L630.0,1589.9 L630.0,1759.3 L533.3,1759.3 Z" fill="#fde3b4"/>
<path d="M548.0,1608.0 L570.6,1603.5 L572.8,1675.8 L559.3,1698.3 L548.0,1675.8 Z" fill="#f0a464"/>
<path d="M588.7,1608.0 L613.5,1612.5 L611.2,1709.6 L595.4,1716.4 L586.4,1653.2 Z" fill="#ee7f00" stroke="#1a1a1a" stroke-width="1.1" stroke-linejoin="round"/>
<path d="M593.2,1626.0 L609.0,1628.3 L606.7,1698.3 L595.4,1698.3 Z" fill="#eb0000"/>
<path d="M533.3,1687.0 L548.0,1687.0 L548.0,1759.3 L533.3,1759.3 Z" fill="#ee7f00"/>
<path d="M559.3,1709.6 L593.2,1698.3 L593.2,1759.3 L559.3,1759.3 Z" fill="#e0ecf8"/>
<path d="M570.6,1495.0 L581.9,1495.0 L581.9,1585.4 L572.8,1585.4 Z" fill="#f0fdfd"/>
<path d="M620.0,1495.0 L633.6,1495.0 L633.6,1569.6 L620.0,1569.6 Z" fill="#fff4e8"/>
<path d="M633.6,1495.0 L672.0,1495.0 L672.0,1574.1 L653.9,1585.4 L633.6,1569.6 Z" fill="#f0a464"/>
<path d="M620.0,1574.1 L642.6,1562.8 L653.9,1585.4 L658.4,1630.6 L653.9,1698.3 L642.6,1759.3 L620.0,1759.3 Z" fill="#ee7f00" stroke="#1a1a1a" stroke-width="1.1" stroke-linejoin="round"/>
<path d="M624.5,1603.5 L644.9,1598.9 L653.9,1630.6 L649.4,1687.0 L633.6,1698.3 L624.5,1653.2 Z" fill="#c8641e"/>
<path d="M629.0,1630.6 L647.1,1630.6 L647.1,1687.0 L631.3,1687.0 Z" fill="#dd3311"/>
<path d="M642.6,1720.9 L665.2,1720.9 L665.2,1759.3 L642.6,1759.3 Z" fill="#e0ecf8"/>
<path d="M653.9,1608.0 L673.1,1608.0 L673.1,1759.3 L653.9,1759.3 Z" fill="#fde3b4"/>
<path d="M672.0,1495.0 L714.9,1495.0 L714.9,1682.5 L672.0,1682.5 Z" fill="#a8d4e2"/>
<path d="M672.0,1608.0 L694.6,1630.6 L705.9,1682.5 L672.0,1682.5 Z" fill="#e0ecf8"/>
<path d="M674.2,1515.3 L694.6,1515.3 L696.8,1562.8 L685.5,1562.8 Z" fill="#55a8e8"/>
<path d="M705.9,1495.0 L714.9,1495.0 L714.9,1653.2 L708.1,1653.2 Z" fill="#4875f8"/>
<path d="M798.5,1495.0 L895.6,1495.0 L895.6,1653.2 L798.5,1653.2 Z" fill="#fde3b4"/>
<path d="M798.5,1495.0 L895.6,1495.0 L895.6,1531.2 L845.9,1540.2 L798.5,1528.9 Z" fill="#fff4e8"/>
<path d="M816.6,1535.7 L836.9,1533.4 L855.0,1562.8 L895.6,1540.2 L895.6,1601.2 L868.5,1601.2 L855.0,1630.6 L836.9,1653.2 L823.3,1596.7 L816.6,1562.8 Z" fill="#f0a464"/>
<path d="M821.1,1547.0 L834.6,1551.5 L841.4,1580.9 L827.9,1594.4 Z" fill="#ee7f00"/>
<path d="M823.3,1567.3 L832.4,1569.6 L834.6,1589.9 L825.6,1589.9 Z" fill="#eb0000"/>
<path d="M834.6,1614.7 L850.5,1621.5 L850.5,1639.6 L836.9,1635.1 Z" fill="#eb0000"/>
<path d="M859.5,1580.9 L875.3,1585.4 L882.1,1601.2 L868.5,1621.5 L859.5,1608.0 Z" fill="#eb0000"/>
<path d="M798.5,1537.9 L809.8,1549.2 L805.3,1567.3 L798.5,1567.3 Z" fill="#eb0000"/>
</g>
<path d="M132.7,1250.7 L133.6,1250.7 L138.4,1252.3 L144.8,1262.0 L148.1,1271.6 L149.7,1294.1 L151.3,1326.2 L154.5,1358.3 L157.7,1380.7 L160.9,1403.2 L165.7,1428.9 L168.9,1454.5 L172.1,1457.7 L173.7,1470.6 L176.9,1489.8 L180.1,1505.9 L185.0,1515.5 L188.2,1521.9 L189.8,1541.2 L193.0,1557.2 L194.6,1563.6 L196.2,1566.9 L197.8,1589.3 L201.0,1605.4 L204.2,1616.6 L207.4,1624.6 L210.6,1608.6 L213.8,1602.2 L218.7,1603.8 L221.9,1611.8 L225.1,1608.6 L229.9,1608.6 L231.5,1602.2 L234.7,1576.5 L237.9,1557.2 L241.1,1544.4 L242.7,1525.1 L245.9,1499.5 L247.5,1489.8 L250.8,1496.2 L252.4,1509.1 L254.0,1502.7 L257.2,1480.2 L260.4,1454.5 L263.6,1435.3 L266.8,1441.7 L270.0,1428.9 L274.8,1416.0 L278.0,1396.8 L281.2,1348.6 L283.5,1300.5 L286.1,1243.4 L289.3,1284.4 L292.5,1332.6 L295.7,1390.3 L297.3,1396.8 L300.5,1364.7 L303.7,1300.5 L305.3,1274.8 L308.5,1300.5 L311.7,1364.7 L313.3,1428.9 L314.9,1486.6 L318.1,1493.0 L320.7,1480.2 L323.0,1470.6 L325.2,1483.4 L327.8,1499.5 L331.0,1460.9 L334.2,1396.8 L337.4,1358.3 L340.6,1364.7 L343.8,1390.3 L347.0,1409.6 L350.2,1364.7 L353.4,1268.4 L356.0,1242.7 L359.2,1268.4 L363.1,1332.6 L367.9,1390.3 L372.7,1416.0 L375.9,1422.4 L379.1,1435.3 L382.3,1467.4 L385.5,1531.6 L388.7,1518.7 L392.0,1460.9 L393.6,1425.6 L396.8,1435.3 L400.0,1486.6 L403.2,1512.3 L406.4,1502.7 L408.6,1499.5 L411.2,1515.5 L412.8,1528.3 L416.0,1493.0 L419.2,1428.9 L422.4,1348.6 L424.1,1321.3 L427.3,1348.6 L430.5,1428.9 L432.1,1493.0 L433.7,1509.1 L436.9,1460.9 L440.1,1364.7 L441.7,1348.6 L444.9,1380.7 L448.1,1444.9 L451.3,1509.1 L454.5,1544.4 L457.7,1509.1 L459.4,1486.6 L462.6,1509.1 L465.8,1618.2 L469.0,1525.1 L472.2,1396.8 L473.8,1300.5 L475.4,1281.2 L478.6,1332.6 L480.2,1493.0 L481.8,1621.4 L485.0,1762.6 L132.7,1759.5 Z" fill="#e7e7e7" stroke="#111" stroke-width="1.1" stroke-linejoin="round"/>
<path d="M490.8,1762.6 L492.7,1685.6 L494.7,1634.2 L496.6,1685.6 L499.5,1762.6 Z" fill="#e7e7e7" stroke="#111" stroke-width="1.0" stroke-linejoin="round"/>
<path d="M504.9,1762.6 L506.8,1685.6 L509.1,1623.0 L511.3,1685.6 L513.9,1762.6 Z" fill="#e7e7e7" stroke="#111" stroke-width="1.0" stroke-linejoin="round"/>
<path d="M689.4,1760.1 L692.6,1734.3 L695.7,1760.1 Z" fill="#e7e7e7" stroke="#111" stroke-width="1.0" stroke-linejoin="round"/>
<path d="M737.5,1241.8 L736.4,1302.8 L735.2,1393.2 L734.1,1460.9 L734.1,1500.0 L733.0,1562.8 L730.7,1630.6 L727.3,1698.3 L723.9,1720.9 L721.7,1759.8 L1114.8,1759.8 L1114.8,1242.9 L1105.8,1244.0 L1049.3,1248.6 L1017.7,1255.3 L1013.1,1259.9 L1004.1,1271.2 L1001.8,1284.7 L990.5,1293.7 L981.5,1302.8 L972.5,1314.1 L963.4,1325.4 L958.9,1343.5 L956.6,1357.0 L954.4,1345.7 L952.1,1359.3 L945.4,1379.6 L936.3,1393.2 L931.8,1406.7 L927.3,1420.3 L923.9,1438.3 L921.6,1460.9 L920.5,1500.0 L918.2,1533.4 L913.7,1517.6 L909.2,1540.2 L905.8,1585.4 L903.6,1630.6 L901.3,1664.5 L899.0,1689.3 L896.8,1680.3 L894.5,1653.2 L891.1,1635.1 L887.7,1650.9 L884.3,1639.6 L879.8,1626.0 L875.3,1608.0 L871.9,1585.4 L869.7,1630.6 L867.4,1675.8 L864.0,1702.9 L859.5,1696.1 L852.7,1684.8 L845.9,1687.0 L842.5,1691.6 L838.0,1687.0 L835.8,1630.6 L832.4,1601.2 L829.0,1630.6 L825.6,1648.6 L822.2,1641.9 L818.8,1653.2 L814.3,1657.7 L809.8,1666.7 L805.3,1644.1 L801.9,1648.6 L798.5,1630.6 L795.1,1585.4 L791.7,1540.2 L788.3,1535.7 L782.7,1562.8 L780.4,1517.6 L779.3,1495.0 L780.4,1500.0 L778.2,1438.3 L773.6,1370.6 L769.1,1302.8 L764.6,1257.6 L761.2,1241.8 Z" fill="#e7e7e7" stroke="#111" stroke-width="1.1" stroke-linejoin="round"/>
<path d="M687.8,1759.8 L692.3,1739.0 L696.8,1759.8 Z" fill="#e7e7e7" stroke="#111" stroke-width="1.0" stroke-linejoin="round"/>
</g>
<path d="M133.5,1241.4V1759.0H1116.2" fill="none" stroke="#404040" stroke-width="1.6"/>
<path d="M1116.2,1241.4V1759.0" fill="none" stroke="#404040" stroke-width="1.4"/>
<path d="M123.5,1242.9H133.5" stroke="#404040" stroke-width="1.6"/>
<text x="113.9" y="1256.2" text-anchor="end" font-size="31" fill="#000">10</text>
<path d="M123.5,1267.5H133.5" stroke="#404040" stroke-width="1.6"/>
<text x="113.9" y="1280.8" text-anchor="end" font-size="31" fill="#000">200</text>
<path d="M123.5,1306.3H133.5" stroke="#404040" stroke-width="1.6"/>
<text x="113.9" y="1319.6" text-anchor="end" font-size="31" fill="#000">500</text>
<path d="M123.5,1345.1H133.5" stroke="#404040" stroke-width="1.6"/>
<text x="113.9" y="1358.4" text-anchor="end" font-size="31" fill="#000">800</text>
<path d="M123.5,1435.6H133.5" stroke="#404040" stroke-width="1.6"/>
<text x="113.9" y="1448.9" text-anchor="end" font-size="31" fill="#000">1500</text>
<path d="M123.5,1565.0H133.5" stroke="#404040" stroke-width="1.6"/>
<text x="113.9" y="1578.3" text-anchor="end" font-size="31" fill="#000">2500</text>
<path d="M123.5,1759.0H133.5" stroke="#404040" stroke-width="1.6"/>
<text x="113.9" y="1772.3" text-anchor="end" font-size="31" fill="#000">4000</text>
<path d="M133.5,1759.0V1764.5" stroke="#404040" stroke-width="1.5"/>
<path d="M162.4,1759.0V1764.5" stroke="#404040" stroke-width="1.5"/>
<path d="M191.3,1759.0V1769.0" stroke="#404040" stroke-width="1.5"/>
<path d="M220.2,1759.0V1764.5" stroke="#404040" stroke-width="1.5"/>
<path d="M249.1,1759.0V1764.5" stroke="#404040" stroke-width="1.5"/>
<path d="M278.0,1759.0V1764.5" stroke="#404040" stroke-width="1.5"/>
<path d="M306.9,1759.0V1769.0" stroke="#404040" stroke-width="1.5"/>
<path d="M335.8,1759.0V1764.5" stroke="#404040" stroke-width="1.5"/>
<path d="M364.7,1759.0V1764.5" stroke="#404040" stroke-width="1.5"/>
<path d="M393.6,1759.0V1764.5" stroke="#404040" stroke-width="1.5"/>
<path d="M422.5,1759.0V1769.0" stroke="#404040" stroke-width="1.5"/>
<path d="M451.4,1759.0V1764.5" stroke="#404040" stroke-width="1.5"/>
<path d="M480.3,1759.0V1764.5" stroke="#404040" stroke-width="1.5"/>
<path d="M509.2,1759.0V1764.5" stroke="#404040" stroke-width="1.5"/>
<path d="M538.1,1759.0V1769.0" stroke="#404040" stroke-width="1.5"/>
<path d="M567.0,1759.0V1764.5" stroke="#404040" stroke-width="1.5"/>
<path d="M595.9,1759.0V1764.5" stroke="#404040" stroke-width="1.5"/>
<path d="M624.9,1759.0V1764.5" stroke="#404040" stroke-width="1.5"/>
<path d="M653.8,1759.0V1769.0" stroke="#404040" stroke-width="1.5"/>
<path d="M682.7,1759.0V1764.5" stroke="#404040" stroke-width="1.5"/>
<path d="M711.6,1759.0V1764.5" stroke="#404040" stroke-width="1.5"/>
<path d="M740.5,1759.0V1764.5" stroke="#404040" stroke-width="1.5"/>
<path d="M769.4,1759.0V1769.0" stroke="#404040" stroke-width="1.5"/>
<path d="M798.3,1759.0V1764.5" stroke="#404040" stroke-width="1.5"/>
<path d="M827.2,1759.0V1764.5" stroke="#404040" stroke-width="1.5"/>
<path d="M856.1,1759.0V1764.5" stroke="#404040" stroke-width="1.5"/>
<path d="M885.0,1759.0V1769.0" stroke="#404040" stroke-width="1.5"/>
<path d="M913.9,1759.0V1764.5" stroke="#404040" stroke-width="1.5"/>
<path d="M942.8,1759.0V1764.5" stroke="#404040" stroke-width="1.5"/>
<path d="M971.7,1759.0V1764.5" stroke="#404040" stroke-width="1.5"/>
<path d="M1000.6,1759.0V1769.0" stroke="#404040" stroke-width="1.5"/>
<path d="M1029.5,1759.0V1764.5" stroke="#404040" stroke-width="1.5"/>
<path d="M1058.4,1759.0V1764.5" stroke="#404040" stroke-width="1.5"/>
<path d="M1087.3,1759.0V1764.5" stroke="#404040" stroke-width="1.5"/>
<path d="M1116.2,1759.0V1769.0" stroke="#404040" stroke-width="1.5"/>
<text x="182.8" y="1809.0" font-size="30.5" fill="#000">6<tspan fill="#555">N</tspan></text>
<text x="298.4" y="1809.0" font-size="30.5" fill="#000">8<tspan fill="#555">N</tspan></text>
<text x="405.6" y="1809.0" font-size="30.5" fill="#000">10<tspan fill="#555">N</tspan></text>
<text x="521.2" y="1809.0" font-size="30.5" fill="#000">12<tspan fill="#555">N</tspan></text>
<text x="636.8" y="1809.0" font-size="30.5" fill="#000">14<tspan fill="#555">N</tspan></text>
<text x="752.4" y="1809.0" font-size="30.5" fill="#000">16<tspan fill="#555">N</tspan></text>
<text x="868.0" y="1809.0" font-size="30.5" fill="#000">18<tspan fill="#555">N</tspan></text>
<text x="983.6" y="1809.0" font-size="30.5" fill="#000">20<tspan fill="#555">N</tspan></text>
<text x="1099.2" y="1809.0" font-size="30.5" fill="#000">22<tspan fill="#555">N</tspan></text>
</g>
<g id="pf">
<clipPath id="clipf"><rect x="1374.7" y="1239.6" width="981.5" height="518.6"/></clipPath>
<g clip-path="url(#clipf)">
<clipPath id="df"><path d="M1373.6,1240.4 L2357.3,1240.4 L2357.3,1244.0 L2253.0,1255.3 L2230.4,1277.9 L2216.8,1289.2 L2198.7,1307.3 L2189.7,1307.3 L2189.7,1345.7 L2176.1,1345.7 L2176.1,1370.6 L2165.3,1370.6 L2165.3,1424.8 L2151.7,1424.8 L2151.7,1497.1 L2133.7,1497.1 L2133.7,1601.0 L2111.1,1601.0 L2111.1,1655.2 L2084.0,1655.2 L2084.0,1628.1 L2065.9,1628.1 L2065.9,1573.9 L2038.8,1573.9 L2038.8,1501.6 L2025.2,1501.6 L2025.2,1271.2 L2007.1,1241.8 L1975.1,1241.8 L1975.1,1343.5 L1957.4,1343.5 L1957.4,1760.1 L1776.7,1760.1 L1776.7,1682.4 L1745.1,1682.4 L1745.1,1447.4 L1722.5,1447.4 L1722.5,1384.1 L1641.1,1402.2 L1623.1,1406.7 L1568.8,1406.7 L1559.8,1384.1 L1523.6,1384.1 L1523.6,1327.6 L1501.0,1327.6 L1501.0,1472.2 L1460.4,1472.2 L1460.4,1546.8 L1446.8,1546.8 L1446.8,1472.2 L1429.6,1472.2 L1429.6,1415.8 L1416.1,1415.8 L1416.1,1336.7 L1401.6,1336.7 L1401.6,1262.1 L1373.6,1262.1 Z"/></clipPath>
<filter id="blf" x="-5%" y="-5%" width="110%" height="110%"><feGaussianBlur stdDeviation="6"/></filter>
<g clip-path="url(#df)"><g filter="url(#blf)">
<path d="M1347.4,1212.4 L2386.7,1212.4 L2386.7,1799.8 L1347.4,1799.8 Z" fill="#f2f7fd"/>
<path d="M1347.4,1212.4 L2386.7,1212.4 L2386.7,1596.5 L2133.7,1551.3 L2111.1,1587.5 L2093.0,1560.4 L2084.0,1524.2 L2070.4,1506.1 L2056.9,1515.2 L2043.3,1488.1 L2034.3,1451.9 L2002.6,1451.9 L1957.4,1415.8 L1952.9,1479.0 L1943.9,1524.2 L1930.3,1519.7 L1912.3,1474.5 L1898.7,1456.4 L1880.6,1465.5 L1858.0,1488.1 L1821.9,1497.1 L1803.8,1492.6 L1772.2,1560.4 L1758.6,1524.2 L1754.1,1506.1 L1767.7,1460.9 L1758.6,1415.8 L1745.1,1402.2 L1722.5,1384.1 L1501.0,1397.7 L1487.5,1438.3 L1473.9,1470.0 L1460.4,1424.8 L1433.3,1406.7 L1415.2,1384.1 L1347.4,1384.1 Z" fill="#eaf2fb"/>
<path d="M1347.4,1212.4 L2386.7,1212.4 L2386.7,1470.0 L2151.7,1470.0 L2138.2,1479.0 L2111.1,1497.1 L2097.5,1460.9 L2097.5,1424.8 L2084.0,1397.7 L2070.4,1397.7 L2047.8,1424.8 L2025.2,1388.6 L1957.4,1388.6 L1943.9,1409.0 L1930.3,1406.7 L1921.3,1384.1 L1916.8,1348.0 L1912.3,1343.5 L1867.1,1397.7 L1844.5,1402.2 L1844.5,1393.2 L1862.5,1384.1 L1862.5,1316.3 L1871.6,1293.7 L1858.0,1289.2 L1844.5,1298.3 L1812.8,1348.0 L1794.8,1384.1 L1785.7,1442.9 L1790.2,1370.6 L1781.2,1338.9 L1763.1,1320.9 L1749.6,1307.3 L1758.6,1284.7 L1745.1,1289.2 L1713.4,1325.4 L1695.4,1318.6 L1668.2,1316.3 L1650.2,1320.9 L1641.1,1329.9 L1632.1,1357.0 L1614.0,1375.1 L1582.4,1379.6 L1559.8,1384.1 L1550.8,1338.9 L1553.0,1293.7 L1546.2,1277.9 L1528.2,1280.2 L1510.1,1287.0 L1505.6,1298.3 L1501.0,1325.4 L1487.5,1338.9 L1476.2,1327.6 L1464.9,1343.5 L1462.6,1366.0 L1444.6,1368.3 L1431.0,1379.6 L1419.7,1352.5 L1410.7,1325.4 L1401.6,1289.2 L1347.4,1289.2 Z" fill="#dfebf7"/>
<path d="M1347.4,1212.4 L2386.7,1212.4 L2386.7,1361.5 L2187.9,1361.5 L2165.3,1379.6 L2147.2,1393.2 L2138.2,1338.9 L2133.7,1318.6 L2102.0,1338.9 L2070.4,1357.0 L2038.8,1366.0 L2025.2,1325.4 L2020.7,1271.2 L1971.0,1253.1 L1962.0,1280.2 L1943.9,1302.8 L1934.8,1280.2 L1889.7,1262.1 L1867.1,1253.1 L1821.9,1255.3 L1776.7,1253.1 L1731.5,1248.6 L1686.3,1246.3 L1641.1,1248.6 L1614.0,1253.1 L1582.4,1253.1 L1550.8,1255.3 L1505.6,1257.6 L1460.4,1257.6 L1415.2,1255.3 L1374.5,1250.8 L1347.4,1250.8 Z" fill="#b6d4ea"/>
<path d="M1347.4,1212.4 L2386.7,1212.4 L2386.7,1243.1 L2273.8,1244.9 L2242.1,1248.6 L2228.6,1262.1 L2196.9,1302.8 L2178.9,1338.9 L2160.8,1334.4 L2156.3,1293.7 L2138.2,1275.7 L2115.6,1271.2 L2093.0,1280.2 L2074.9,1307.3 L2052.3,1302.8 L2043.3,1275.7 L2038.8,1253.1 L2007.1,1248.6 L1962.0,1244.9 L1930.3,1244.0 L1582.4,1246.3 L1550.8,1248.6 L1460.4,1249.5 L1374.5,1247.7 L1347.4,1247.7 Z" fill="#5d9fd0"/>
<path d="M2038.8,1239.5 L2251.2,1239.5 L2228.6,1262.1 L2196.9,1302.8 L2178.9,1338.9 L2160.8,1334.4 L2156.3,1293.7 L2138.2,1275.7 L2115.6,1271.2 L2093.0,1280.2 L2074.9,1307.3 L2052.3,1302.8 L2043.3,1275.7 L2038.8,1253.1 Z" fill="#3f86c2"/>
<path d="M2047.8,1241.8 L2228.6,1241.8 L2219.5,1262.1 L2192.4,1271.2 L2138.2,1262.1 L2093.0,1257.6 L2056.9,1253.1 Z" fill="#2a6db0"/>
<path d="M2165.3,1253.1 L2210.5,1253.1 L2196.9,1289.2 L2183.4,1325.4 L2169.8,1307.3 Z" fill="#2a6db0"/>
<path d="M2138.2,1271.2 L2178.9,1266.6 L2183.4,1302.8 L2174.3,1338.9 L2156.3,1325.4 Z" fill="#2a6db0"/>
<path d="M2074.9,1240.4 L2206.0,1240.4 L2201.5,1250.8 L2093.0,1248.6 Z" fill="#0d3f80"/>
<path d="M1347.4,1212.4 L2386.7,1212.4 L2386.7,1242.7 L1347.4,1242.7 Z" fill="#2a6db0"/>
</g>
<path d="M1374.5,1247.7 L1460.4,1249.5 L1550.8,1248.6 L1582.4,1246.3" fill="none" stroke="#222" stroke-width="1.15" stroke-linejoin="round"/>
<path d="M1930.3,1244.0 L1962.0,1244.9" fill="none" stroke="#222" stroke-width="1.15" stroke-linejoin="round"/>
<path d="M2007.1,1248.6 L2038.8,1253.1 L2043.3,1275.7 L2052.3,1302.8 L2074.9,1307.3 L2093.0,1280.2 L2115.6,1271.2 L2138.2,1275.7 L2156.3,1293.7 L2160.8,1334.4 L2178.9,1338.9 L2196.9,1302.8 L2228.6,1262.1 L2242.1,1248.6 L2273.8,1244.9 L2357.3,1243.1" fill="none" stroke="#222" stroke-width="1.15" stroke-linejoin="round"/>
<path d="M1374.5,1250.8 L1415.2,1255.3 L1460.4,1257.6 L1505.6,1257.6 L1550.8,1255.3 L1582.4,1253.1 L1614.0,1253.1 L1641.1,1248.6 L1686.3,1246.3 L1731.5,1248.6 L1776.7,1253.1 L1821.9,1255.3 L1867.1,1253.1 L1889.7,1262.1 L1934.8,1280.2 L1943.9,1302.8 L1962.0,1280.2 L1971.0,1253.1" fill="none" stroke="#222" stroke-width="1.15" stroke-linejoin="round"/>
<path d="M2020.7,1271.2 L2025.2,1325.4 L2038.8,1366.0 L2070.4,1357.0 L2102.0,1338.9 L2133.7,1318.6 L2138.2,1338.9 L2147.2,1393.2 L2165.3,1379.6 L2187.9,1361.5" fill="none" stroke="#222" stroke-width="1.15" stroke-linejoin="round"/>
<path d="M1401.6,1289.2 L1410.7,1325.4 L1419.7,1352.5 L1431.0,1379.6 L1444.6,1368.3 L1462.6,1366.0 L1464.9,1343.5 L1476.2,1327.6 L1487.5,1338.9 L1501.0,1325.4 L1505.6,1298.3 L1510.1,1287.0 L1528.2,1280.2 L1546.2,1277.9 L1553.0,1293.7 L1550.8,1338.9 L1559.8,1384.1 L1582.4,1379.6 L1614.0,1375.1 L1632.1,1357.0 L1641.1,1329.9 L1650.2,1320.9 L1668.2,1316.3 L1695.4,1318.6 L1713.4,1325.4 L1745.1,1289.2 L1758.6,1284.7 L1749.6,1307.3 L1763.1,1320.9 L1781.2,1338.9 L1790.2,1370.6 L1785.7,1442.9 L1794.8,1384.1 L1812.8,1348.0 L1844.5,1298.3 L1858.0,1289.2 L1871.6,1293.7 L1862.5,1316.3 L1862.5,1384.1 L1844.5,1393.2 L1844.5,1402.2 L1867.1,1397.7 L1912.3,1343.5 L1916.8,1348.0 L1921.3,1384.1 L1930.3,1406.7 L1943.9,1409.0 L1957.4,1388.6" fill="none" stroke="#222" stroke-width="1.15" stroke-linejoin="round"/>
<path d="M2025.2,1388.6 L2047.8,1424.8 L2070.4,1397.7 L2084.0,1397.7 L2097.5,1424.8 L2097.5,1460.9 L2111.1,1497.1 L2138.2,1479.0 L2151.7,1470.0" fill="none" stroke="#222" stroke-width="1.15" stroke-linejoin="round"/>
<path d="M1415.2,1384.1 L1433.3,1406.7 L1460.4,1424.8 L1473.9,1470.0 L1487.5,1438.3 L1501.0,1397.7" fill="none" stroke="#222" stroke-width="1.15" stroke-linejoin="round"/>
<path d="M1722.5,1384.1 L1745.1,1402.2 L1758.6,1415.8 L1767.7,1460.9 L1754.1,1506.1 L1758.6,1524.2 L1772.2,1560.4 L1803.8,1492.6 L1821.9,1497.1 L1858.0,1488.1 L1880.6,1465.5 L1898.7,1456.4 L1912.3,1474.5 L1930.3,1519.7 L1943.9,1524.2 L1952.9,1479.0 L1957.4,1415.8" fill="none" stroke="#222" stroke-width="1.15" stroke-linejoin="round"/>
<path d="M1912.3,1587.5 L1916.8,1619.1 L1921.3,1686.9 L1921.3,1759.2" fill="none" stroke="#222" stroke-width="1.15" stroke-linejoin="round"/>
<path d="M1907.7,1686.9 L1912.3,1759.2" fill="none" stroke="#222" stroke-width="1.15" stroke-linejoin="round"/>
<path d="M2034.3,1451.9 L2043.3,1488.1 L2056.9,1515.2 L2070.4,1506.1 L2084.0,1524.2 L2093.0,1560.4 L2111.1,1587.5 L2133.7,1551.3" fill="none" stroke="#222" stroke-width="1.15" stroke-linejoin="round"/>
<path d="M1826.4,1273.4 L1840.0,1266.6 L1846.7,1271.2 L1840.0,1277.9 L1826.4,1277.9" fill="none" stroke="#222" stroke-width="1.15" stroke-linejoin="round"/>
</g>
<path d="M1373.9,1249.4 L1374.8,1249.4 L1379.6,1251.0 L1386.0,1260.7 L1389.3,1270.3 L1390.9,1292.8 L1392.5,1324.9 L1395.7,1357.0 L1398.9,1379.4 L1402.1,1401.9 L1406.9,1427.6 L1410.1,1453.2 L1413.3,1456.4 L1414.9,1469.3 L1418.1,1488.5 L1421.3,1504.6 L1426.2,1514.2 L1429.4,1520.6 L1431.0,1539.9 L1434.2,1555.9 L1435.8,1562.3 L1437.4,1565.6 L1439.0,1588.0 L1442.2,1604.1 L1445.4,1615.3 L1448.6,1623.3 L1451.8,1607.3 L1455.0,1600.9 L1459.9,1602.5 L1463.1,1610.5 L1466.3,1607.3 L1471.1,1607.3 L1472.7,1600.9 L1475.9,1575.2 L1479.1,1555.9 L1482.3,1543.1 L1483.9,1523.8 L1487.1,1498.2 L1488.7,1488.5 L1492.0,1494.9 L1493.6,1507.8 L1495.2,1501.4 L1498.4,1478.9 L1501.6,1453.2 L1504.8,1434.0 L1508.0,1440.4 L1511.2,1427.6 L1516.0,1414.7 L1519.2,1395.5 L1522.4,1347.3 L1524.7,1299.2 L1527.3,1242.1 L1530.5,1283.1 L1533.7,1331.3 L1536.9,1389.0 L1538.5,1395.5 L1541.7,1363.4 L1544.9,1299.2 L1546.5,1273.5 L1549.7,1299.2 L1552.9,1363.4 L1554.5,1427.6 L1556.1,1485.3 L1559.3,1491.7 L1561.9,1478.9 L1564.2,1469.3 L1566.4,1482.1 L1569.0,1498.2 L1572.2,1459.6 L1575.4,1395.5 L1578.6,1357.0 L1581.8,1363.4 L1585.0,1389.0 L1588.2,1408.3 L1591.4,1363.4 L1594.6,1267.1 L1597.2,1241.4 L1600.4,1267.1 L1604.3,1331.3 L1609.1,1389.0 L1613.9,1414.7 L1617.1,1421.1 L1620.3,1434.0 L1623.5,1466.1 L1626.7,1530.3 L1629.9,1517.4 L1633.2,1459.6 L1634.8,1424.3 L1638.0,1434.0 L1641.2,1485.3 L1644.4,1511.0 L1647.6,1501.4 L1649.8,1498.2 L1652.4,1514.2 L1654.0,1527.0 L1657.2,1491.7 L1660.4,1427.6 L1663.6,1347.3 L1665.3,1320.0 L1668.5,1347.3 L1671.7,1427.6 L1673.3,1491.7 L1674.9,1507.8 L1678.1,1459.6 L1681.3,1363.4 L1682.9,1347.3 L1686.1,1379.4 L1689.3,1443.6 L1692.5,1507.8 L1695.7,1543.1 L1698.9,1507.8 L1700.6,1485.3 L1703.8,1507.8 L1707.0,1616.9 L1710.2,1523.8 L1713.4,1395.5 L1715.0,1299.2 L1716.6,1279.9 L1719.8,1331.3 L1721.4,1491.7 L1723.0,1620.1 L1726.2,1761.3 L1373.9,1758.2 Z" fill="#e7e7e7" stroke="#111" stroke-width="1.1" stroke-linejoin="round"/>
<path d="M1732.0,1761.3 L1733.9,1684.3 L1735.9,1632.9 L1737.8,1684.3 L1740.7,1761.3 Z" fill="#e7e7e7" stroke="#111" stroke-width="1.0" stroke-linejoin="round"/>
<path d="M1746.1,1761.3 L1748.0,1684.3 L1750.3,1621.7 L1752.5,1684.3 L1755.1,1761.3 Z" fill="#e7e7e7" stroke="#111" stroke-width="1.0" stroke-linejoin="round"/>
<path d="M1930.6,1758.8 L1933.8,1733.0 L1936.9,1758.8 Z" fill="#e7e7e7" stroke="#111" stroke-width="1.0" stroke-linejoin="round"/>
<path d="M1978.7,1240.5 L1977.6,1301.5 L1976.4,1391.9 L1975.3,1459.6 L1975.3,1498.7 L1974.2,1561.5 L1971.9,1629.3 L1968.5,1697.0 L1965.1,1719.6 L1962.9,1758.5 L2356.0,1758.5 L2356.0,1241.6 L2347.0,1242.7 L2290.5,1247.3 L2258.9,1254.0 L2254.3,1258.6 L2245.3,1269.9 L2243.0,1283.4 L2231.7,1292.4 L2222.7,1301.5 L2213.7,1312.8 L2204.6,1324.1 L2200.1,1342.2 L2197.8,1355.7 L2195.6,1344.4 L2193.3,1358.0 L2186.6,1378.3 L2177.5,1391.9 L2173.0,1405.4 L2168.5,1419.0 L2165.1,1437.0 L2162.8,1459.6 L2161.7,1498.7 L2159.4,1532.1 L2154.9,1516.3 L2150.4,1538.9 L2147.0,1584.1 L2144.8,1629.3 L2142.5,1663.2 L2140.2,1688.0 L2138.0,1679.0 L2135.7,1651.9 L2132.3,1633.8 L2128.9,1649.6 L2125.5,1638.3 L2121.0,1624.7 L2116.5,1606.7 L2113.1,1584.1 L2110.9,1629.3 L2108.6,1674.5 L2105.2,1701.6 L2100.7,1694.8 L2093.9,1683.5 L2087.1,1685.7 L2083.7,1690.3 L2079.2,1685.7 L2077.0,1629.3 L2073.6,1599.9 L2070.2,1629.3 L2066.8,1647.3 L2063.4,1640.6 L2060.0,1651.9 L2055.5,1656.4 L2051.0,1665.4 L2046.5,1642.8 L2043.1,1647.3 L2039.7,1629.3 L2036.3,1584.1 L2032.9,1538.9 L2029.5,1534.4 L2023.9,1561.5 L2021.6,1516.3 L2020.5,1493.7 L2021.6,1498.7 L2019.4,1437.0 L2014.8,1369.3 L2010.3,1301.5 L2005.8,1256.3 L2002.4,1240.5 Z" fill="#e7e7e7" stroke="#111" stroke-width="1.1" stroke-linejoin="round"/>
<path d="M1929.0,1758.5 L1933.5,1737.7 L1938.0,1758.5 Z" fill="#e7e7e7" stroke="#111" stroke-width="1.0" stroke-linejoin="round"/>
</g>
<path d="M1374.7,1240.1V1758.2H2356.2" fill="none" stroke="#404040" stroke-width="1.6"/>
<path d="M2356.2,1240.1V1758.2" fill="none" stroke="#404040" stroke-width="1.4"/>
<path d="M1364.7,1241.6H1374.7" stroke="#404040" stroke-width="1.6"/>
<text x="1355.1" y="1254.9" text-anchor="end" font-size="31" fill="#000">10</text>
<path d="M1364.7,1266.2H1374.7" stroke="#404040" stroke-width="1.6"/>
<text x="1355.1" y="1279.5" text-anchor="end" font-size="31" fill="#000">200</text>
<path d="M1364.7,1305.0H1374.7" stroke="#404040" stroke-width="1.6"/>
<text x="1355.1" y="1318.3" text-anchor="end" font-size="31" fill="#000">500</text>
<path d="M1364.7,1343.9H1374.7" stroke="#404040" stroke-width="1.6"/>
<text x="1355.1" y="1357.2" text-anchor="end" font-size="31" fill="#000">800</text>
<path d="M1364.7,1434.5H1374.7" stroke="#404040" stroke-width="1.6"/>
<text x="1355.1" y="1447.8" text-anchor="end" font-size="31" fill="#000">1500</text>
<path d="M1364.7,1564.0H1374.7" stroke="#404040" stroke-width="1.6"/>
<text x="1355.1" y="1577.3" text-anchor="end" font-size="31" fill="#000">2500</text>
<path d="M1364.7,1758.2H1374.7" stroke="#404040" stroke-width="1.6"/>
<text x="1355.1" y="1771.5" text-anchor="end" font-size="31" fill="#000">4000</text>
<path d="M1374.7,1758.2V1763.7" stroke="#404040" stroke-width="1.5"/>
<path d="M1403.6,1758.2V1763.7" stroke="#404040" stroke-width="1.5"/>
<path d="M1432.4,1758.2V1768.2" stroke="#404040" stroke-width="1.5"/>
<path d="M1461.3,1758.2V1763.7" stroke="#404040" stroke-width="1.5"/>
<path d="M1490.2,1758.2V1763.7" stroke="#404040" stroke-width="1.5"/>
<path d="M1519.0,1758.2V1763.7" stroke="#404040" stroke-width="1.5"/>
<path d="M1547.9,1758.2V1768.2" stroke="#404040" stroke-width="1.5"/>
<path d="M1576.8,1758.2V1763.7" stroke="#404040" stroke-width="1.5"/>
<path d="M1605.6,1758.2V1763.7" stroke="#404040" stroke-width="1.5"/>
<path d="M1634.5,1758.2V1763.7" stroke="#404040" stroke-width="1.5"/>
<path d="M1663.4,1758.2V1768.2" stroke="#404040" stroke-width="1.5"/>
<path d="M1692.2,1758.2V1763.7" stroke="#404040" stroke-width="1.5"/>
<path d="M1721.1,1758.2V1763.7" stroke="#404040" stroke-width="1.5"/>
<path d="M1750.0,1758.2V1763.7" stroke="#404040" stroke-width="1.5"/>
<path d="M1778.8,1758.2V1768.2" stroke="#404040" stroke-width="1.5"/>
<path d="M1807.7,1758.2V1763.7" stroke="#404040" stroke-width="1.5"/>
<path d="M1836.6,1758.2V1763.7" stroke="#404040" stroke-width="1.5"/>
<path d="M1865.4,1758.2V1763.7" stroke="#404040" stroke-width="1.5"/>
<path d="M1894.3,1758.2V1768.2" stroke="#404040" stroke-width="1.5"/>
<path d="M1923.2,1758.2V1763.7" stroke="#404040" stroke-width="1.5"/>
<path d="M1952.1,1758.2V1763.7" stroke="#404040" stroke-width="1.5"/>
<path d="M1980.9,1758.2V1763.7" stroke="#404040" stroke-width="1.5"/>
<path d="M2009.8,1758.2V1768.2" stroke="#404040" stroke-width="1.5"/>
<path d="M2038.7,1758.2V1763.7" stroke="#404040" stroke-width="1.5"/>
<path d="M2067.5,1758.2V1763.7" stroke="#404040" stroke-width="1.5"/>
<path d="M2096.4,1758.2V1763.7" stroke="#404040" stroke-width="1.5"/>
<path d="M2125.3,1758.2V1768.2" stroke="#404040" stroke-width="1.5"/>
<path d="M2154.1,1758.2V1763.7" stroke="#404040" stroke-width="1.5"/>
<path d="M2183.0,1758.2V1763.7" stroke="#404040" stroke-width="1.5"/>
<path d="M2211.9,1758.2V1763.7" stroke="#404040" stroke-width="1.5"/>
<path d="M2240.7,1758.2V1768.2" stroke="#404040" stroke-width="1.5"/>
<path d="M2269.6,1758.2V1763.7" stroke="#404040" stroke-width="1.5"/>
<path d="M2298.5,1758.2V1763.7" stroke="#404040" stroke-width="1.5"/>
<path d="M2327.3,1758.2V1763.7" stroke="#404040" stroke-width="1.5"/>
<path d="M2356.2,1758.2V1768.2" stroke="#404040" stroke-width="1.5"/>
<text x="1424.0" y="1808.2" font-size="30.5" fill="#000">6<tspan fill="#555">N</tspan></text>
<text x="1539.4" y="1808.2" font-size="30.5" fill="#000">8<tspan fill="#555">N</tspan></text>
<text x="1646.4" y="1808.2" font-size="30.5" fill="#000">10<tspan fill="#555">N</tspan></text>
<text x="1761.9" y="1808.2" font-size="30.5" fill="#000">12<tspan fill="#555">N</tspan></text>
<text x="1877.4" y="1808.2" font-size="30.5" fill="#000">14<tspan fill="#555">N</tspan></text>
<text x="1992.8" y="1808.2" font-size="30.5" fill="#000">16<tspan fill="#555">N</tspan></text>
<text x="2108.3" y="1808.2" font-size="30.5" fill="#000">18<tspan fill="#555">N</tspan></text>
<text x="2223.8" y="1808.2" font-size="30.5" fill="#000">20<tspan fill="#555">N</tspan></text>
<text x="2339.2" y="1808.2" font-size="30.5" fill="#000">22<tspan fill="#555">N</tspan></text>
</g>
<rect x="1150.3" y="52.70" width="19.4" height="27.92" fill="#7f0000"/>
<rect x="1150.3" y="80.02" width="19.4" height="27.92" fill="#c80000"/>
<rect x="1150.3" y="107.33" width="19.4" height="27.92" fill="#eb0000"/>
<rect x="1150.3" y="134.65" width="19.4" height="27.92" fill="#dd3311"/>
<rect x="1150.3" y="161.96" width="19.4" height="27.92" fill="#c8641e"/>
<rect x="1150.3" y="189.28" width="19.4" height="27.92" fill="#ee7f00"/>
<rect x="1150.3" y="216.59" width="19.4" height="27.92" fill="#f0a464"/>
<rect x="1150.3" y="243.91" width="19.4" height="27.92" fill="#fde3b4"/>
<rect x="1150.3" y="271.23" width="19.4" height="27.92" fill="#fff4e8"/>
<rect x="1150.3" y="298.54" width="19.4" height="27.92" fill="#f0fdfd"/>
<rect x="1150.3" y="325.86" width="19.4" height="27.92" fill="#e0ecf8"/>
<rect x="1150.3" y="353.17" width="19.4" height="27.92" fill="#d2ebe6"/>
<rect x="1150.3" y="380.49" width="19.4" height="27.92" fill="#a8d4e2"/>
<rect x="1150.3" y="407.81" width="19.4" height="27.92" fill="#55a8e8"/>
<rect x="1150.3" y="435.12" width="19.4" height="27.92" fill="#4875f8"/>
<rect x="1150.3" y="462.44" width="19.4" height="27.92" fill="#1a73cc"/>
<rect x="1150.3" y="489.75" width="19.4" height="27.92" fill="#134e8e"/>
<rect x="1150.3" y="517.07" width="19.4" height="27.92" fill="#1a1a70"/>
<rect x="1150.3" y="544.38" width="19.4" height="27.92" fill="#000000"/>
<rect x="1150.3" y="52.7" width="19.4" height="519.0" fill="none" stroke="#333" stroke-width="1.4"/>
<text x="1177.2" y="582.0" font-size="28.5" fill="#000">0</text>
<path d="M1164.7,467.9H1169.7" stroke="#333" stroke-width="1.3"/>
<text x="1177.2" y="478.2" font-size="28.5" fill="#000">0.2</text>
<path d="M1164.7,364.1H1169.7" stroke="#333" stroke-width="1.3"/>
<text x="1177.2" y="374.4" font-size="28.5" fill="#000">0.4</text>
<path d="M1164.7,260.3H1169.7" stroke="#333" stroke-width="1.3"/>
<text x="1177.2" y="270.6" font-size="28.5" fill="#000">0.6</text>
<path d="M1164.7,156.5H1169.7" stroke="#333" stroke-width="1.3"/>
<text x="1177.2" y="166.8" font-size="28.5" fill="#000">0.8</text>
<text x="1177.2" y="63.0" font-size="28.5" fill="#000">1</text>
<rect x="1153.8" y="646.20" width="19.2" height="27.82" fill="#7f0000"/>
<rect x="1153.8" y="673.42" width="19.2" height="27.82" fill="#c80000"/>
<rect x="1153.8" y="700.64" width="19.2" height="27.82" fill="#eb0000"/>
<rect x="1153.8" y="727.86" width="19.2" height="27.82" fill="#dd3311"/>
<rect x="1153.8" y="755.08" width="19.2" height="27.82" fill="#c8641e"/>
<rect x="1153.8" y="782.31" width="19.2" height="27.82" fill="#ee7f00"/>
<rect x="1153.8" y="809.53" width="19.2" height="27.82" fill="#f0a464"/>
<rect x="1153.8" y="836.75" width="19.2" height="27.82" fill="#fde3b4"/>
<rect x="1153.8" y="863.97" width="19.2" height="27.82" fill="#fff4e8"/>
<rect x="1153.8" y="891.19" width="19.2" height="27.82" fill="#f0fdfd"/>
<rect x="1153.8" y="918.41" width="19.2" height="27.82" fill="#e0ecf8"/>
<rect x="1153.8" y="945.63" width="19.2" height="27.82" fill="#d2ebe6"/>
<rect x="1153.8" y="972.85" width="19.2" height="27.82" fill="#a8d4e2"/>
<rect x="1153.8" y="1000.07" width="19.2" height="27.82" fill="#55a8e8"/>
<rect x="1153.8" y="1027.29" width="19.2" height="27.82" fill="#4875f8"/>
<rect x="1153.8" y="1054.52" width="19.2" height="27.82" fill="#1a73cc"/>
<rect x="1153.8" y="1081.74" width="19.2" height="27.82" fill="#134e8e"/>
<rect x="1153.8" y="1108.96" width="19.2" height="27.82" fill="#1a1a70"/>
<rect x="1153.8" y="1136.18" width="19.2" height="27.82" fill="#000000"/>
<rect x="1153.8" y="646.2" width="19.2" height="517.2" fill="none" stroke="#333" stroke-width="1.4"/>
<text x="1180.5" y="1173.7" font-size="28.5" fill="#000">0</text>
<path d="M1168.0,1060.0H1173.0" stroke="#333" stroke-width="1.3"/>
<text x="1180.5" y="1070.3" font-size="28.5" fill="#000">0.2</text>
<path d="M1168.0,956.5H1173.0" stroke="#333" stroke-width="1.3"/>
<text x="1180.5" y="966.8" font-size="28.5" fill="#000">0.4</text>
<path d="M1168.0,853.1H1173.0" stroke="#333" stroke-width="1.3"/>
<text x="1180.5" y="863.4" font-size="28.5" fill="#000">0.6</text>
<path d="M1168.0,749.6H1173.0" stroke="#333" stroke-width="1.3"/>
<text x="1180.5" y="759.9" font-size="28.5" fill="#000">0.8</text>
<text x="1180.5" y="656.5" font-size="28.5" fill="#000">1</text>
<rect x="1154.2" y="1239.80" width="18.7" height="27.84" fill="#7f0000"/>
<rect x="1154.2" y="1267.04" width="18.7" height="27.84" fill="#c80000"/>
<rect x="1154.2" y="1294.28" width="18.7" height="27.84" fill="#eb0000"/>
<rect x="1154.2" y="1321.53" width="18.7" height="27.84" fill="#dd3311"/>
<rect x="1154.2" y="1348.77" width="18.7" height="27.84" fill="#c8641e"/>
<rect x="1154.2" y="1376.01" width="18.7" height="27.84" fill="#ee7f00"/>
<rect x="1154.2" y="1403.25" width="18.7" height="27.84" fill="#f0a464"/>
<rect x="1154.2" y="1430.49" width="18.7" height="27.84" fill="#fde3b4"/>
<rect x="1154.2" y="1457.74" width="18.7" height="27.84" fill="#fff4e8"/>
<rect x="1154.2" y="1484.98" width="18.7" height="27.84" fill="#f0fdfd"/>
<rect x="1154.2" y="1512.22" width="18.7" height="27.84" fill="#e0ecf8"/>
<rect x="1154.2" y="1539.46" width="18.7" height="27.84" fill="#d2ebe6"/>
<rect x="1154.2" y="1566.71" width="18.7" height="27.84" fill="#a8d4e2"/>
<rect x="1154.2" y="1593.95" width="18.7" height="27.84" fill="#55a8e8"/>
<rect x="1154.2" y="1621.19" width="18.7" height="27.84" fill="#4875f8"/>
<rect x="1154.2" y="1648.43" width="18.7" height="27.84" fill="#1a73cc"/>
<rect x="1154.2" y="1675.67" width="18.7" height="27.84" fill="#134e8e"/>
<rect x="1154.2" y="1702.92" width="18.7" height="27.84" fill="#1a1a70"/>
<rect x="1154.2" y="1730.16" width="18.7" height="27.84" fill="#000000"/>
<rect x="1154.2" y="1239.8" width="18.7" height="517.6" fill="none" stroke="#333" stroke-width="1.4"/>
<text x="1180.4" y="1767.7" font-size="28.5" fill="#000">0</text>
<path d="M1167.9,1653.9H1172.9" stroke="#333" stroke-width="1.3"/>
<text x="1180.4" y="1664.2" font-size="28.5" fill="#000">0.2</text>
<path d="M1167.9,1550.4H1172.9" stroke="#333" stroke-width="1.3"/>
<text x="1180.4" y="1560.7" font-size="28.5" fill="#000">0.4</text>
<path d="M1167.9,1446.8H1172.9" stroke="#333" stroke-width="1.3"/>
<text x="1180.4" y="1457.1" font-size="28.5" fill="#000">0.6</text>
<path d="M1167.9,1343.3H1172.9" stroke="#333" stroke-width="1.3"/>
<text x="1180.4" y="1353.6" font-size="28.5" fill="#000">0.8</text>
<text x="1180.4" y="1250.1" font-size="28.5" fill="#000">1</text>
<defs><linearGradient id="g55" x1="0" y1="1" x2="0" y2="0"><stop offset="0" stop-color="#f7fbff"/><stop offset="0.125" stop-color="#deebf7"/><stop offset="0.25" stop-color="#c6dbef"/><stop offset="0.375" stop-color="#9ecae1"/><stop offset="0.5" stop-color="#6baed6"/><stop offset="0.625" stop-color="#4292c6"/><stop offset="0.75" stop-color="#2171b5"/><stop offset="0.875" stop-color="#08519c"/><stop offset="1" stop-color="#08306b"/></linearGradient></defs>
<rect x="2392.5" y="55.2" width="19.5" height="518.2" fill="url(#g55)" stroke="#555" stroke-width="1.4"/>
<text x="2421.0" y="583.2" font-size="27" fill="#000">0</text>
<path d="M2407.0,508.6H2412.0" stroke="#333" stroke-width="1.3"/>
<text x="2421.0" y="518.4" font-size="27" fill="#000">0.05</text>
<path d="M2407.0,443.9H2412.0" stroke="#333" stroke-width="1.3"/>
<text x="2421.0" y="453.7" font-size="27" fill="#000">0.1</text>
<path d="M2407.0,379.1H2412.0" stroke="#333" stroke-width="1.3"/>
<text x="2421.0" y="388.9" font-size="27" fill="#000">0.15</text>
<path d="M2407.0,314.3H2412.0" stroke="#333" stroke-width="1.3"/>
<text x="2421.0" y="324.1" font-size="27" fill="#000">0.2</text>
<path d="M2407.0,249.5H2412.0" stroke="#333" stroke-width="1.3"/>
<text x="2421.0" y="259.3" font-size="27" fill="#000">0.25</text>
<path d="M2407.0,184.8H2412.0" stroke="#333" stroke-width="1.3"/>
<text x="2421.0" y="194.6" font-size="27" fill="#000">0.3</text>
<path d="M2407.0,120.0H2412.0" stroke="#333" stroke-width="1.3"/>
<text x="2421.0" y="129.8" font-size="27" fill="#000">0.35</text>
<text x="2421.0" y="65.0" font-size="27" fill="#000">0.4</text>
<text x="2410.0" y="39.0" font-size="36" fill="#000" font-family="'DejaVu Sans', sans-serif" textLength="78" lengthAdjust="spacingAndGlyphs">[m/s]</text>
<defs><linearGradient id="g646" x1="0" y1="1" x2="0" y2="0"><stop offset="0" stop-color="#f7fbff"/><stop offset="0.125" stop-color="#deebf7"/><stop offset="0.25" stop-color="#c6dbef"/><stop offset="0.375" stop-color="#9ecae1"/><stop offset="0.5" stop-color="#6baed6"/><stop offset="0.625" stop-color="#4292c6"/><stop offset="0.75" stop-color="#2171b5"/><stop offset="0.875" stop-color="#08519c"/><stop offset="1" stop-color="#08306b"/></linearGradient></defs>
<rect x="2388.1" y="646.0" width="19.7" height="518.0" fill="url(#g646)" stroke="#555" stroke-width="1.4"/>
<text x="2416.8" y="1173.8" font-size="27" fill="#000">0</text>
<path d="M2402.8,1034.5H2407.8" stroke="#333" stroke-width="1.3"/>
<text x="2416.8" y="1044.3" font-size="27" fill="#000">0.05</text>
<path d="M2402.8,905.0H2407.8" stroke="#333" stroke-width="1.3"/>
<text x="2416.8" y="914.8" font-size="27" fill="#000">0.1</text>
<path d="M2402.8,775.5H2407.8" stroke="#333" stroke-width="1.3"/>
<text x="2416.8" y="785.3" font-size="27" fill="#000">0.15</text>
<text x="2416.8" y="655.8" font-size="27" fill="#000">0.2</text>
<text x="2410.5" y="630.0" font-size="36" fill="#000" font-family="'DejaVu Sans', sans-serif" textLength="78" lengthAdjust="spacingAndGlyphs">[m/s]</text>
<defs><linearGradient id="g1241" x1="0" y1="1" x2="0" y2="0"><stop offset="0" stop-color="#f7fbff"/><stop offset="0.125" stop-color="#deebf7"/><stop offset="0.25" stop-color="#c6dbef"/><stop offset="0.375" stop-color="#9ecae1"/><stop offset="0.5" stop-color="#6baed6"/><stop offset="0.625" stop-color="#4292c6"/><stop offset="0.75" stop-color="#2171b5"/><stop offset="0.875" stop-color="#08519c"/><stop offset="1" stop-color="#08306b"/></linearGradient></defs>
<rect x="2384.9" y="1241.0" width="18.9" height="516.6" fill="url(#g1241)" stroke="#555" stroke-width="1.4"/>
<text x="2412.8" y="1767.4" font-size="27" fill="#000">0</text>
<path d="M2398.8,1628.4H2403.8" stroke="#333" stroke-width="1.3"/>
<text x="2412.8" y="1638.2" font-size="27" fill="#000">0.05</text>
<path d="M2398.8,1499.3H2403.8" stroke="#333" stroke-width="1.3"/>
<text x="2412.8" y="1509.1" font-size="27" fill="#000">0.1</text>
<path d="M2398.8,1370.2H2403.8" stroke="#333" stroke-width="1.3"/>
<text x="2412.8" y="1380.0" font-size="27" fill="#000">0.15</text>
<text x="2412.8" y="1250.8" font-size="27" fill="#000">0.2</text>
<text x="2405.5" y="1225.0" font-size="36" fill="#000" font-family="'DejaVu Sans', sans-serif" textLength="78" lengthAdjust="spacingAndGlyphs">[m/s]</text>
<text x="28" y="311" font-size="34" text-anchor="middle" transform="rotate(-90 28 311)" dy="12">depth</text>
<text x="28" y="904" font-size="34" text-anchor="middle" transform="rotate(-90 28 904)" dy="12">depth</text>
<text x="28" y="1503" font-size="34" text-anchor="middle" transform="rotate(-90 28 1503)" dy="12">depth</text>
<text x="1271" y="311" font-size="34" text-anchor="middle" transform="rotate(-90 1271 311)" dy="12">depth</text>
<text x="1271" y="904" font-size="34" text-anchor="middle" transform="rotate(-90 1271 904)" dy="12">depth</text>
<text x="1271" y="1503" font-size="34" text-anchor="middle" transform="rotate(-90 1271 1503)" dy="12">depth</text>
<text x="623" y="1851" font-size="34" text-anchor="middle">lat</text>
<text x="1866" y="1851" font-size="34" text-anchor="middle">lat</text>
<text x="146.5" y="554.4" font-size="38.5" fill="#000" textLength="273.8" lengthAdjust="spacingAndGlyphs">(a) Section I <tspan font-style="italic">SCI</tspan></text>
<text x="1390.8" y="559.0" font-size="38.5" fill="#000" textLength="288.0" lengthAdjust="spacingAndGlyphs">(b) Section I <tspan font-style="italic">SCA</tspan></text>
<text x="147.2" y="1138.3" font-size="38.5" fill="#000" textLength="282.2" lengthAdjust="spacingAndGlyphs">(c) Section II <tspan font-style="italic">SCI</tspan></text>
<text x="1389.3" y="1136.9" font-size="38.5" fill="#000" textLength="299.6" lengthAdjust="spacingAndGlyphs">(d) Section II <tspan font-style="italic">SCA</tspan></text>
<text x="150.1" y="1734.0" font-size="38.5" fill="#000" textLength="296.7" lengthAdjust="spacingAndGlyphs">(e) Section III <tspan font-style="italic">SCI</tspan></text>
<text x="1392.2" y="1734.8" font-size="38.5" fill="#000" textLength="302.5" lengthAdjust="spacingAndGlyphs">(f) Section III <tspan font-style="italic">SCA</tspan></text>
</svg></body></html>
